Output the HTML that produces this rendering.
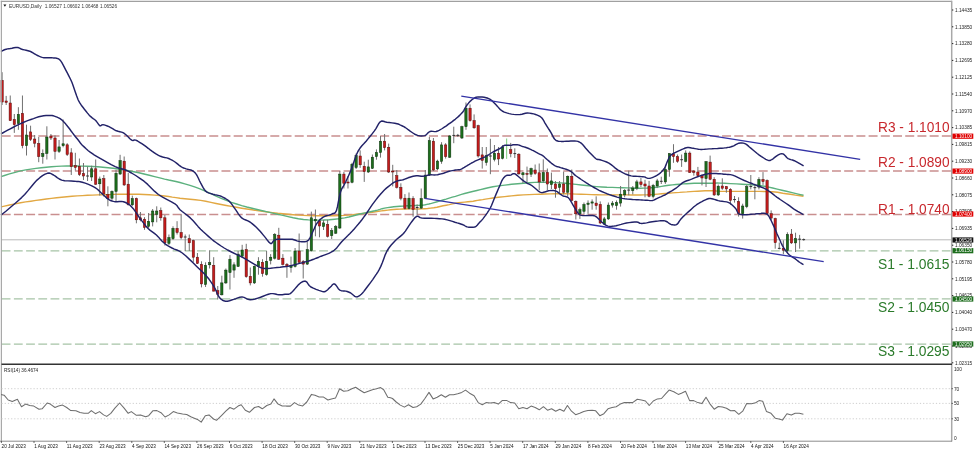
<!DOCTYPE html><html><head><meta charset="utf-8"><title>EURUSD Daily</title><style>
html,body{margin:0;padding:0;background:#fff;width:975px;height:452px;overflow:hidden}
svg{display:block;will-change:transform}text{font-family:"Liberation Sans",sans-serif}.t{opacity:.995}
</style></head><body>
<svg width="975" height="452" viewBox="0 0 975 452">
<rect x="0" y="0" width="975" height="452" fill="#fff"/>
<line x1="1.5" y1="136.0" x2="951" y2="136.0" stroke="#c98f8f" stroke-width="1.4" stroke-dasharray="9 3.21" stroke-dashoffset="12.03"/>
<line x1="1.5" y1="171.0" x2="951" y2="171.0" stroke="#c98f8f" stroke-width="1.4" stroke-dasharray="9 3.21" stroke-dashoffset="12.03"/>
<line x1="1.5" y1="214.5" x2="951" y2="214.5" stroke="#c98f8f" stroke-width="1.4" stroke-dasharray="9 3.21" stroke-dashoffset="12.03"/>
<line x1="1.5" y1="250.9" x2="951" y2="250.9" stroke="#a6c3a6" stroke-width="1.4" stroke-dasharray="8.8 3.41" stroke-dashoffset="12.03"/>
<line x1="1.5" y1="298.9" x2="951" y2="298.9" stroke="#a6c3a6" stroke-width="1.4" stroke-dasharray="8.8 3.41" stroke-dashoffset="12.03"/>
<line x1="1.5" y1="344.1" x2="951" y2="344.1" stroke="#a6c3a6" stroke-width="1.4" stroke-dasharray="8.8 3.41" stroke-dashoffset="12.03"/>
<line x1="1.5" y1="239.8" x2="951" y2="239.8" stroke="#b9b9b9" stroke-width="1"/>
<polyline points="1.0,206.9 4.5,206.1 9.5,205.0 15.2,203.9 20.6,202.8 25.7,201.9 30.8,201.2 36.0,200.4 41.2,199.7 46.3,199.0 51.4,198.4 56.6,197.7 61.7,197.2 66.8,196.7 72.0,196.3 77.1,195.9 82.3,195.6 87.5,195.3 92.6,195.1 97.7,194.9 102.9,194.7 108.1,194.6 113.2,194.4 118.4,194.3 123.5,194.3 128.6,194.3 133.8,194.3 138.9,194.3 144.0,194.5 149.3,194.8 154.6,195.1 159.8,195.5 164.6,196.0 168.7,196.5 172.3,197.1 175.9,197.6 180.0,198.2 184.8,198.7 190.0,199.2 195.3,199.7 200.6,200.4 205.8,201.3 210.9,202.4 216.1,203.5 221.2,204.5 226.3,205.5 231.4,206.4 236.6,207.3 241.7,208.2 246.8,209.0 252.0,209.8 257.1,210.6 262.3,211.3 267.4,212.0 272.6,212.6 277.7,213.3 282.9,213.8 288.1,214.3 293.2,214.7 298.4,215.1 303.5,215.4 308.6,215.6 313.7,215.7 318.9,215.8 324.0,215.8 329.3,215.8 334.6,215.7 339.8,215.6 344.6,215.4 348.9,215.1 352.8,214.7 356.5,214.2 360.0,213.8 363.3,213.4 366.3,213.0 369.3,212.6 372.3,212.2 375.4,211.8 378.5,211.3 381.5,210.9 384.6,210.5 387.7,210.1 390.8,209.8 393.8,209.5 396.9,209.3 400.0,209.1 403.0,209.0 406.1,209.0 409.2,208.9 412.3,208.9 415.4,209.0 418.4,209.0 421.5,208.9 424.6,208.7 427.6,208.5 430.7,208.1 433.8,207.7 436.9,207.2 440.0,206.5 443.1,205.8 446.2,205.2 449.3,204.6 452.4,203.9 455.4,203.3 458.5,202.8 461.6,202.4 464.8,202.1 467.9,201.8 470.8,201.5 473.2,201.2 475.4,200.8 477.5,200.4 480.0,200.0 482.7,199.6 485.5,199.1 488.8,198.6 492.9,198.0 498.3,197.3 504.7,196.6 511.4,195.9 517.7,195.3 523.5,194.9 529.1,194.6 534.6,194.4 540.0,194.2 545.3,194.0 550.4,193.9 555.5,193.8 560.6,193.8 565.8,193.8 570.9,193.9 576.1,194.1 581.2,194.2 586.3,194.4 591.5,194.6 596.6,194.8 601.7,194.9 606.9,194.9 612.2,194.9 617.4,194.9 622.3,194.9 627.0,194.9 631.5,195.0 635.9,195.0 640.0,195.0 643.8,194.9 647.4,194.8 650.9,194.6 654.4,194.4 658.0,194.1 661.6,193.8 665.2,193.5 668.8,193.2 672.4,192.9 676.0,192.6 679.6,192.4 683.2,192.1 686.8,191.9 690.4,191.6 694.0,191.4 697.6,191.2 701.3,191.0 705.1,190.8 708.8,190.7 711.9,190.6 714.0,190.7 715.5,190.9 717.1,191.1 720.0,191.3 724.5,191.4 730.1,191.4 736.2,191.4 742.0,191.4 747.8,191.4 753.7,191.4 759.3,191.4 764.0,191.5 767.5,191.6 770.2,191.7 772.5,191.8 775.0,192.0 777.6,192.3 780.1,192.7 782.8,193.2 786.0,193.7 790.3,194.3 795.4,195.1 800.2,195.7 803.5,196.2" fill="none" stroke="#e2a843" stroke-width="1.4"/>
<polyline points="1.0,176.6 4.5,175.5 9.5,173.9 15.2,172.3 20.6,170.9 25.7,169.9 30.8,169.1 36.0,168.4 41.2,167.8 46.3,167.2 51.4,166.8 56.6,166.4 61.7,166.1 66.8,166.0 72.0,165.9 77.1,166.0 82.3,166.1 87.5,166.3 92.6,166.5 97.7,166.8 102.9,167.2 108.1,167.7 113.2,168.3 118.4,169.0 123.5,169.8 128.6,170.7 133.8,171.7 138.9,172.8 144.0,174.0 149.3,175.3 154.6,176.6 159.8,177.9 164.6,179.1 168.7,180.0 172.3,180.7 175.9,181.5 180.0,182.5 184.8,183.9 190.0,185.4 195.3,187.2 200.6,189.1 205.8,191.3 210.9,193.7 216.1,196.2 221.2,198.4 226.3,200.4 231.4,202.3 236.6,204.0 241.7,205.6 246.8,207.0 252.0,208.3 257.1,209.5 262.3,210.7 267.4,211.9 272.6,213.1 277.7,214.3 282.9,215.4 288.1,216.6 293.2,217.7 298.4,218.7 303.5,219.5 308.6,219.9 313.7,220.1 318.9,220.1 324.0,220.0 329.3,219.7 334.6,219.2 339.8,218.6 344.6,217.9 348.8,217.0 352.7,216.0 356.3,215.0 360.0,214.0 363.9,213.1 367.8,212.3 371.5,211.5 374.8,210.8 377.5,210.1 379.9,209.4 382.1,208.7 384.6,208.1 387.5,207.6 390.6,207.2 393.8,206.8 396.9,206.5 400.0,206.3 403.0,206.1 406.1,205.9 409.2,205.8 412.4,205.7 415.7,205.5 418.8,205.4 421.5,205.2 423.6,205.0 425.3,204.8 426.9,204.4 428.9,204.0 431.4,203.4 434.1,202.6 437.1,201.8 440.0,200.9 443.0,200.0 446.1,199.1 449.2,198.1 452.3,197.2 455.4,196.3 458.5,195.3 461.5,194.4 464.6,193.5 467.6,192.7 470.5,192.0 473.6,191.3 476.9,190.5 480.4,189.6 484.1,188.7 488.2,187.7 492.9,186.8 498.5,185.9 504.9,185.1 511.5,184.3 517.7,183.7 523.5,183.2 529.1,182.7 534.6,182.4 540.0,182.2 545.3,182.2 550.4,182.3 555.5,182.6 560.6,182.9 565.8,183.3 570.9,183.9 576.1,184.4 581.2,185.0 586.3,185.5 591.5,186.1 596.6,186.6 601.7,187.0 606.9,187.3 612.2,187.4 617.4,187.6 622.3,187.7 627.0,187.9 631.5,188.0 635.9,188.2 640.0,188.2 643.8,188.1 647.4,188.0 650.9,187.8 654.4,187.5 658.0,187.0 661.6,186.4 665.2,185.8 668.8,185.3 672.4,184.9 676.0,184.5 679.6,184.2 683.2,183.9 686.8,183.7 690.4,183.5 694.0,183.3 697.6,183.2 701.3,183.2 705.1,183.2 708.8,183.2 711.9,183.2 714.0,183.2 715.5,183.1 717.1,183.0 720.0,183.1 724.7,183.3 730.5,183.6 736.6,183.9 742.0,184.2 746.5,184.5 750.5,184.7 754.2,185.0 757.6,185.3 760.5,185.6 763.0,186.0 765.6,186.5 768.7,187.1 772.7,188.0 777.2,189.1 781.9,190.2 786.4,191.3 791.1,192.4 796.1,193.6 800.4,194.6 803.5,195.3" fill="none" stroke="#5cb17e" stroke-width="1.4"/>
<line x1="2.10" y1="72.2" x2="2.10" y2="105.0" stroke="#707070" stroke-width="1"/>
<rect x="0.95" y="80.40" width="2.3" height="21.60" fill="#c41c1c" stroke="#5a0c0c" stroke-width="0.5"/>
<line x1="6.17" y1="95.9" x2="6.17" y2="105.0" stroke="#707070" stroke-width="1"/>
<rect x="5.02" y="101.00" width="2.3" height="1.40" fill="#c41c1c" stroke="#5a0c0c" stroke-width="0.5"/>
<line x1="10.24" y1="95.5" x2="10.24" y2="121.0" stroke="#707070" stroke-width="1"/>
<rect x="9.09" y="103.00" width="2.3" height="17.60" fill="#c41c1c" stroke="#5a0c0c" stroke-width="0.5"/>
<line x1="14.31" y1="114.0" x2="14.31" y2="132.9" stroke="#707070" stroke-width="1"/>
<rect x="13.16" y="119.50" width="2.3" height="5.20" fill="#c41c1c" stroke="#5a0c0c" stroke-width="0.5"/>
<line x1="18.38" y1="107.2" x2="18.38" y2="129.8" stroke="#707070" stroke-width="1"/>
<rect x="17.23" y="114.40" width="2.3" height="9.20" fill="#1c6e1c" stroke="#0c300c" stroke-width="0.5"/>
<line x1="22.45" y1="95.5" x2="22.45" y2="148.3" stroke="#707070" stroke-width="1"/>
<rect x="21.30" y="113.40" width="2.3" height="32.30" fill="#c41c1c" stroke="#5a0c0c" stroke-width="0.5"/>
<line x1="26.51" y1="124.7" x2="26.51" y2="155.5" stroke="#707070" stroke-width="1"/>
<rect x="25.36" y="135.00" width="2.3" height="10.70" fill="#1c6e1c" stroke="#0c300c" stroke-width="0.5"/>
<line x1="30.58" y1="125.7" x2="30.58" y2="141.0" stroke="#707070" stroke-width="1"/>
<rect x="29.43" y="131.90" width="2.3" height="7.60" fill="#c41c1c" stroke="#5a0c0c" stroke-width="0.5"/>
<line x1="34.65" y1="135.0" x2="34.65" y2="147.3" stroke="#707070" stroke-width="1"/>
<rect x="33.50" y="139.00" width="2.3" height="4.20" fill="#c41c1c" stroke="#5a0c0c" stroke-width="0.5"/>
<line x1="38.72" y1="137.0" x2="38.72" y2="162.2" stroke="#707070" stroke-width="1"/>
<rect x="37.57" y="143.60" width="2.3" height="13.00" fill="#c41c1c" stroke="#5a0c0c" stroke-width="0.5"/>
<line x1="42.79" y1="149.4" x2="42.79" y2="163.7" stroke="#707070" stroke-width="1"/>
<rect x="41.64" y="153.50" width="2.3" height="3.10" fill="#1c6e1c" stroke="#0c300c" stroke-width="0.5"/>
<line x1="46.86" y1="126.3" x2="46.86" y2="159.5" stroke="#707070" stroke-width="1"/>
<rect x="45.71" y="137.00" width="2.3" height="16.50" fill="#1c6e1c" stroke="#0c300c" stroke-width="0.5"/>
<line x1="50.93" y1="134.0" x2="50.93" y2="140.0" stroke="#707070" stroke-width="1"/>
<rect x="49.78" y="136.00" width="2.3" height="2.00" fill="#c41c1c" stroke="#5a0c0c" stroke-width="0.5"/>
<line x1="55.00" y1="135.4" x2="55.00" y2="159.5" stroke="#707070" stroke-width="1"/>
<rect x="53.85" y="138.00" width="2.3" height="13.40" fill="#c41c1c" stroke="#5a0c0c" stroke-width="0.5"/>
<line x1="59.07" y1="140.0" x2="59.07" y2="153.0" stroke="#707070" stroke-width="1"/>
<rect x="57.92" y="146.90" width="2.3" height="4.50" fill="#1c6e1c" stroke="#0c300c" stroke-width="0.5"/>
<line x1="63.13" y1="119.5" x2="63.13" y2="147.3" stroke="#707070" stroke-width="1"/>
<rect x="61.98" y="143.80" width="2.3" height="1.90" fill="#1c6e1c" stroke="#0c300c" stroke-width="0.5"/>
<line x1="67.20" y1="143.2" x2="67.20" y2="156.0" stroke="#707070" stroke-width="1"/>
<rect x="66.05" y="144.80" width="2.3" height="9.70" fill="#c41c1c" stroke="#5a0c0c" stroke-width="0.5"/>
<line x1="71.27" y1="148.2" x2="71.27" y2="175.0" stroke="#707070" stroke-width="1"/>
<rect x="70.12" y="152.80" width="2.3" height="13.90" fill="#c41c1c" stroke="#5a0c0c" stroke-width="0.5"/>
<line x1="75.34" y1="152.8" x2="75.34" y2="170.5" stroke="#707070" stroke-width="1"/>
<rect x="74.19" y="165.70" width="2.3" height="1.70" fill="#c41c1c" stroke="#5a0c0c" stroke-width="0.5"/>
<line x1="79.41" y1="158.5" x2="79.41" y2="176.0" stroke="#707070" stroke-width="1"/>
<rect x="78.26" y="166.30" width="2.3" height="8.30" fill="#c41c1c" stroke="#5a0c0c" stroke-width="0.5"/>
<line x1="83.48" y1="163.0" x2="83.48" y2="180.0" stroke="#707070" stroke-width="1"/>
<rect x="82.33" y="173.50" width="2.3" height="2.50" fill="#c41c1c" stroke="#5a0c0c" stroke-width="0.5"/>
<line x1="87.55" y1="166.7" x2="87.55" y2="181.0" stroke="#707070" stroke-width="1"/>
<rect x="86.15" y="175.50" width="2.8" height="1" fill="#333"/>
<line x1="91.62" y1="165.7" x2="91.62" y2="181.0" stroke="#707070" stroke-width="1"/>
<rect x="90.47" y="168.80" width="2.3" height="8.20" fill="#1c6e1c" stroke="#0c300c" stroke-width="0.5"/>
<line x1="95.69" y1="159.5" x2="95.69" y2="185.0" stroke="#707070" stroke-width="1"/>
<rect x="94.54" y="168.80" width="2.3" height="15.40" fill="#c41c1c" stroke="#5a0c0c" stroke-width="0.5"/>
<line x1="99.76" y1="176.6" x2="99.76" y2="195.6" stroke="#707070" stroke-width="1"/>
<rect x="98.61" y="179.00" width="2.3" height="4.80" fill="#1c6e1c" stroke="#0c300c" stroke-width="0.5"/>
<line x1="103.82" y1="175.0" x2="103.82" y2="196.6" stroke="#707070" stroke-width="1"/>
<rect x="102.67" y="178.70" width="2.3" height="15.20" fill="#c41c1c" stroke="#5a0c0c" stroke-width="0.5"/>
<line x1="107.89" y1="186.3" x2="107.89" y2="206.3" stroke="#707070" stroke-width="1"/>
<rect x="106.74" y="194.50" width="2.3" height="4.10" fill="#c41c1c" stroke="#5a0c0c" stroke-width="0.5"/>
<line x1="111.96" y1="190.4" x2="111.96" y2="200.7" stroke="#707070" stroke-width="1"/>
<rect x="110.81" y="191.40" width="2.3" height="6.80" fill="#1c6e1c" stroke="#0c300c" stroke-width="0.5"/>
<line x1="116.03" y1="169.8" x2="116.03" y2="201.3" stroke="#707070" stroke-width="1"/>
<rect x="114.88" y="173.30" width="2.3" height="18.10" fill="#1c6e1c" stroke="#0c300c" stroke-width="0.5"/>
<line x1="120.10" y1="154.8" x2="120.10" y2="175.0" stroke="#707070" stroke-width="1"/>
<rect x="118.95" y="160.60" width="2.3" height="13.40" fill="#1c6e1c" stroke="#0c300c" stroke-width="0.5"/>
<line x1="124.17" y1="156.5" x2="124.17" y2="186.0" stroke="#707070" stroke-width="1"/>
<rect x="123.02" y="161.20" width="2.3" height="23.70" fill="#c41c1c" stroke="#5a0c0c" stroke-width="0.5"/>
<line x1="128.24" y1="172.9" x2="128.24" y2="205.5" stroke="#707070" stroke-width="1"/>
<rect x="127.09" y="184.20" width="2.3" height="20.60" fill="#c41c1c" stroke="#5a0c0c" stroke-width="0.5"/>
<line x1="132.31" y1="195.6" x2="132.31" y2="206.0" stroke="#707070" stroke-width="1"/>
<rect x="131.16" y="198.60" width="2.3" height="6.20" fill="#1c6e1c" stroke="#0c300c" stroke-width="0.5"/>
<line x1="136.38" y1="197.6" x2="136.38" y2="223.3" stroke="#707070" stroke-width="1"/>
<rect x="135.23" y="198.60" width="2.3" height="21.20" fill="#c41c1c" stroke="#5a0c0c" stroke-width="0.5"/>
<line x1="140.45" y1="212.0" x2="140.45" y2="221.3" stroke="#707070" stroke-width="1"/>
<rect x="139.30" y="217.80" width="2.3" height="2.00" fill="#c41c1c" stroke="#5a0c0c" stroke-width="0.5"/>
<line x1="144.51" y1="217.2" x2="144.51" y2="229.8" stroke="#707070" stroke-width="1"/>
<rect x="143.36" y="219.20" width="2.3" height="8.20" fill="#c41c1c" stroke="#5a0c0c" stroke-width="0.5"/>
<line x1="148.58" y1="213.0" x2="148.58" y2="228.5" stroke="#707070" stroke-width="1"/>
<rect x="147.43" y="221.30" width="2.3" height="5.10" fill="#1c6e1c" stroke="#0c300c" stroke-width="0.5"/>
<line x1="152.65" y1="209.0" x2="152.65" y2="226.4" stroke="#707070" stroke-width="1"/>
<rect x="151.50" y="211.00" width="2.3" height="10.90" fill="#1c6e1c" stroke="#0c300c" stroke-width="0.5"/>
<line x1="156.72" y1="206.3" x2="156.72" y2="222.3" stroke="#707070" stroke-width="1"/>
<rect x="155.57" y="211.00" width="2.3" height="3.50" fill="#1c6e1c" stroke="#0c300c" stroke-width="0.5"/>
<line x1="160.79" y1="207.5" x2="160.79" y2="220.7" stroke="#707070" stroke-width="1"/>
<rect x="159.64" y="210.60" width="2.3" height="7.20" fill="#c41c1c" stroke="#5a0c0c" stroke-width="0.5"/>
<line x1="164.86" y1="215.0" x2="164.86" y2="245.5" stroke="#707070" stroke-width="1"/>
<rect x="163.71" y="217.80" width="2.3" height="25.00" fill="#c41c1c" stroke="#5a0c0c" stroke-width="0.5"/>
<line x1="168.93" y1="234.5" x2="168.93" y2="245.0" stroke="#707070" stroke-width="1"/>
<rect x="167.78" y="237.60" width="2.3" height="5.80" fill="#1c6e1c" stroke="#0c300c" stroke-width="0.5"/>
<line x1="173.00" y1="226.3" x2="173.00" y2="240.0" stroke="#707070" stroke-width="1"/>
<rect x="171.85" y="228.40" width="2.3" height="10.30" fill="#1c6e1c" stroke="#0c300c" stroke-width="0.5"/>
<line x1="177.07" y1="221.2" x2="177.07" y2="234.5" stroke="#707070" stroke-width="1"/>
<rect x="175.92" y="228.40" width="2.3" height="4.10" fill="#c41c1c" stroke="#5a0c0c" stroke-width="0.5"/>
<line x1="181.14" y1="214.5" x2="181.14" y2="239.3" stroke="#707070" stroke-width="1"/>
<rect x="179.99" y="232.50" width="2.3" height="5.10" fill="#c41c1c" stroke="#5a0c0c" stroke-width="0.5"/>
<line x1="185.20" y1="234.5" x2="185.20" y2="251.0" stroke="#707070" stroke-width="1"/>
<rect x="183.80" y="236.50" width="2.8" height="1" fill="#333"/>
<line x1="189.27" y1="234.5" x2="189.27" y2="251.0" stroke="#707070" stroke-width="1"/>
<rect x="188.12" y="238.70" width="2.3" height="4.10" fill="#c41c1c" stroke="#5a0c0c" stroke-width="0.5"/>
<line x1="193.34" y1="239.7" x2="193.34" y2="261.9" stroke="#707070" stroke-width="1"/>
<rect x="192.19" y="240.70" width="2.3" height="16.50" fill="#c41c1c" stroke="#5a0c0c" stroke-width="0.5"/>
<line x1="197.41" y1="253.0" x2="197.41" y2="264.0" stroke="#707070" stroke-width="1"/>
<rect x="196.26" y="257.20" width="2.3" height="6.20" fill="#c41c1c" stroke="#5a0c0c" stroke-width="0.5"/>
<line x1="201.48" y1="261.3" x2="201.48" y2="287.4" stroke="#707070" stroke-width="1"/>
<rect x="200.33" y="264.40" width="2.3" height="19.50" fill="#c41c1c" stroke="#5a0c0c" stroke-width="0.5"/>
<line x1="205.55" y1="262.3" x2="205.55" y2="287.0" stroke="#707070" stroke-width="1"/>
<rect x="204.40" y="265.40" width="2.3" height="19.10" fill="#1c6e1c" stroke="#0c300c" stroke-width="0.5"/>
<line x1="209.62" y1="250.4" x2="209.62" y2="268.5" stroke="#707070" stroke-width="1"/>
<rect x="208.47" y="262.70" width="2.3" height="2.10" fill="#1c6e1c" stroke="#0c300c" stroke-width="0.5"/>
<line x1="213.69" y1="257.2" x2="213.69" y2="291.5" stroke="#707070" stroke-width="1"/>
<rect x="212.54" y="265.40" width="2.3" height="25.70" fill="#c41c1c" stroke="#5a0c0c" stroke-width="0.5"/>
<line x1="217.76" y1="286.0" x2="217.76" y2="299.4" stroke="#707070" stroke-width="1"/>
<rect x="216.61" y="290.70" width="2.3" height="3.50" fill="#c41c1c" stroke="#5a0c0c" stroke-width="0.5"/>
<line x1="221.83" y1="275.7" x2="221.83" y2="295.5" stroke="#707070" stroke-width="1"/>
<rect x="220.68" y="282.90" width="2.3" height="11.90" fill="#1c6e1c" stroke="#0c300c" stroke-width="0.5"/>
<line x1="225.89" y1="268.5" x2="225.89" y2="284.0" stroke="#707070" stroke-width="1"/>
<rect x="224.74" y="270.10" width="2.3" height="12.80" fill="#1c6e1c" stroke="#0c300c" stroke-width="0.5"/>
<line x1="229.96" y1="255.1" x2="229.96" y2="289.5" stroke="#707070" stroke-width="1"/>
<rect x="228.81" y="259.20" width="2.3" height="13.40" fill="#1c6e1c" stroke="#0c300c" stroke-width="0.5"/>
<line x1="234.03" y1="262.3" x2="234.03" y2="277.8" stroke="#707070" stroke-width="1"/>
<rect x="232.88" y="264.80" width="2.3" height="5.30" fill="#1c6e1c" stroke="#0c300c" stroke-width="0.5"/>
<line x1="238.10" y1="251.0" x2="238.10" y2="267.0" stroke="#707070" stroke-width="1"/>
<rect x="236.95" y="254.10" width="2.3" height="12.30" fill="#1c6e1c" stroke="#0c300c" stroke-width="0.5"/>
<line x1="242.17" y1="244.8" x2="242.17" y2="258.0" stroke="#707070" stroke-width="1"/>
<rect x="241.02" y="250.00" width="2.3" height="6.20" fill="#1c6e1c" stroke="#0c300c" stroke-width="0.5"/>
<line x1="246.24" y1="243.8" x2="246.24" y2="277.8" stroke="#707070" stroke-width="1"/>
<rect x="245.09" y="249.60" width="2.3" height="27.10" fill="#c41c1c" stroke="#5a0c0c" stroke-width="0.5"/>
<line x1="250.31" y1="267.5" x2="250.31" y2="285.4" stroke="#707070" stroke-width="1"/>
<rect x="249.16" y="276.30" width="2.3" height="6.60" fill="#c41c1c" stroke="#5a0c0c" stroke-width="0.5"/>
<line x1="254.38" y1="265.4" x2="254.38" y2="284.0" stroke="#707070" stroke-width="1"/>
<rect x="253.23" y="266.40" width="2.3" height="16.50" fill="#1c6e1c" stroke="#0c300c" stroke-width="0.5"/>
<line x1="258.45" y1="257.2" x2="258.45" y2="274.7" stroke="#707070" stroke-width="1"/>
<rect x="257.30" y="261.30" width="2.3" height="5.10" fill="#1c6e1c" stroke="#0c300c" stroke-width="0.5"/>
<line x1="262.52" y1="259.2" x2="262.52" y2="276.7" stroke="#707070" stroke-width="1"/>
<rect x="261.37" y="262.30" width="2.3" height="11.30" fill="#c41c1c" stroke="#5a0c0c" stroke-width="0.5"/>
<line x1="266.59" y1="251.0" x2="266.59" y2="275.7" stroke="#707070" stroke-width="1"/>
<rect x="265.44" y="261.30" width="2.3" height="13.40" fill="#1c6e1c" stroke="#0c300c" stroke-width="0.5"/>
<line x1="270.65" y1="254.1" x2="270.65" y2="264.4" stroke="#707070" stroke-width="1"/>
<rect x="269.50" y="257.20" width="2.3" height="3.10" fill="#1c6e1c" stroke="#0c300c" stroke-width="0.5"/>
<line x1="274.72" y1="233.1" x2="274.72" y2="259.5" stroke="#707070" stroke-width="1"/>
<rect x="273.57" y="234.50" width="2.3" height="23.70" fill="#1c6e1c" stroke="#0c300c" stroke-width="0.5"/>
<line x1="278.79" y1="227.8" x2="278.79" y2="260.0" stroke="#707070" stroke-width="1"/>
<rect x="277.64" y="235.20" width="2.3" height="24.00" fill="#c41c1c" stroke="#5a0c0c" stroke-width="0.5"/>
<line x1="282.86" y1="254.1" x2="282.86" y2="265.5" stroke="#707070" stroke-width="1"/>
<rect x="281.71" y="258.20" width="2.3" height="6.20" fill="#c41c1c" stroke="#5a0c0c" stroke-width="0.5"/>
<line x1="286.93" y1="263.0" x2="286.93" y2="277.8" stroke="#707070" stroke-width="1"/>
<rect x="285.78" y="264.40" width="2.3" height="2.00" fill="#c41c1c" stroke="#5a0c0c" stroke-width="0.5"/>
<line x1="291.00" y1="256.6" x2="291.00" y2="272.6" stroke="#707070" stroke-width="1"/>
<rect x="289.85" y="265.40" width="2.3" height="2.10" fill="#1c6e1c" stroke="#0c300c" stroke-width="0.5"/>
<line x1="295.07" y1="248.0" x2="295.07" y2="267.5" stroke="#707070" stroke-width="1"/>
<rect x="293.92" y="251.00" width="2.3" height="15.40" fill="#1c6e1c" stroke="#0c300c" stroke-width="0.5"/>
<line x1="299.14" y1="233.5" x2="299.14" y2="263.0" stroke="#707070" stroke-width="1"/>
<rect x="297.99" y="251.00" width="2.3" height="11.30" fill="#c41c1c" stroke="#5a0c0c" stroke-width="0.5"/>
<line x1="303.21" y1="260.0" x2="303.21" y2="278.5" stroke="#707070" stroke-width="1"/>
<rect x="302.06" y="261.60" width="2.3" height="2.50" fill="#c41c1c" stroke="#5a0c0c" stroke-width="0.5"/>
<line x1="307.28" y1="241.4" x2="307.28" y2="265.0" stroke="#707070" stroke-width="1"/>
<rect x="306.13" y="249.70" width="2.3" height="14.40" fill="#1c6e1c" stroke="#0c300c" stroke-width="0.5"/>
<line x1="311.34" y1="211.6" x2="311.34" y2="251.5" stroke="#707070" stroke-width="1"/>
<rect x="310.19" y="217.80" width="2.3" height="32.90" fill="#1c6e1c" stroke="#0c300c" stroke-width="0.5"/>
<line x1="315.41" y1="209.5" x2="315.41" y2="236.3" stroke="#707070" stroke-width="1"/>
<rect x="314.26" y="219.40" width="2.3" height="1.50" fill="#1c6e1c" stroke="#0c300c" stroke-width="0.5"/>
<line x1="319.48" y1="218.8" x2="319.48" y2="237.3" stroke="#707070" stroke-width="1"/>
<rect x="318.33" y="220.90" width="2.3" height="5.10" fill="#c41c1c" stroke="#5a0c0c" stroke-width="0.5"/>
<line x1="323.55" y1="219.8" x2="323.55" y2="230.0" stroke="#707070" stroke-width="1"/>
<rect x="322.40" y="222.90" width="2.3" height="3.70" fill="#1c6e1c" stroke="#0c300c" stroke-width="0.5"/>
<line x1="327.62" y1="219.8" x2="327.62" y2="237.5" stroke="#707070" stroke-width="1"/>
<rect x="326.47" y="224.60" width="2.3" height="11.70" fill="#c41c1c" stroke="#5a0c0c" stroke-width="0.5"/>
<line x1="331.69" y1="228.0" x2="331.69" y2="239.0" stroke="#707070" stroke-width="1"/>
<rect x="330.54" y="230.70" width="2.3" height="5.00" fill="#1c6e1c" stroke="#0c300c" stroke-width="0.5"/>
<line x1="335.76" y1="225.0" x2="335.76" y2="234.0" stroke="#707070" stroke-width="1"/>
<rect x="334.61" y="226.60" width="2.3" height="6.60" fill="#1c6e1c" stroke="#0c300c" stroke-width="0.5"/>
<line x1="339.83" y1="171.0" x2="339.83" y2="229.0" stroke="#707070" stroke-width="1"/>
<rect x="338.68" y="174.10" width="2.3" height="53.90" fill="#1c6e1c" stroke="#0c300c" stroke-width="0.5"/>
<line x1="343.90" y1="172.0" x2="343.90" y2="188.5" stroke="#707070" stroke-width="1"/>
<rect x="342.75" y="174.10" width="2.3" height="9.20" fill="#c41c1c" stroke="#5a0c0c" stroke-width="0.5"/>
<line x1="347.97" y1="176.1" x2="347.97" y2="188.5" stroke="#707070" stroke-width="1"/>
<rect x="346.82" y="182.00" width="2.3" height="1.00" fill="#c41c1c" stroke="#5a0c0c" stroke-width="0.5"/>
<line x1="352.03" y1="162.8" x2="352.03" y2="183.3" stroke="#707070" stroke-width="1"/>
<rect x="350.88" y="164.20" width="2.3" height="18.10" fill="#1c6e1c" stroke="#0c300c" stroke-width="0.5"/>
<line x1="356.10" y1="153.5" x2="356.10" y2="169.0" stroke="#707070" stroke-width="1"/>
<rect x="354.95" y="155.60" width="2.3" height="11.90" fill="#1c6e1c" stroke="#0c300c" stroke-width="0.5"/>
<line x1="360.17" y1="150.4" x2="360.17" y2="167.9" stroke="#707070" stroke-width="1"/>
<rect x="359.02" y="156.00" width="2.3" height="8.80" fill="#c41c1c" stroke="#5a0c0c" stroke-width="0.5"/>
<line x1="364.24" y1="161.7" x2="364.24" y2="181.9" stroke="#707070" stroke-width="1"/>
<rect x="363.09" y="166.30" width="2.3" height="5.30" fill="#c41c1c" stroke="#5a0c0c" stroke-width="0.5"/>
<line x1="368.31" y1="159.7" x2="368.31" y2="173.0" stroke="#707070" stroke-width="1"/>
<rect x="367.16" y="166.90" width="2.3" height="5.10" fill="#1c6e1c" stroke="#0c300c" stroke-width="0.5"/>
<line x1="372.38" y1="154.5" x2="372.38" y2="169.0" stroke="#707070" stroke-width="1"/>
<rect x="371.23" y="157.20" width="2.3" height="11.10" fill="#1c6e1c" stroke="#0c300c" stroke-width="0.5"/>
<line x1="376.45" y1="149.4" x2="376.45" y2="159.7" stroke="#707070" stroke-width="1"/>
<rect x="375.30" y="152.50" width="2.3" height="4.10" fill="#1c6e1c" stroke="#0c300c" stroke-width="0.5"/>
<line x1="380.52" y1="136.0" x2="380.52" y2="157.6" stroke="#707070" stroke-width="1"/>
<rect x="379.37" y="141.20" width="2.3" height="11.30" fill="#1c6e1c" stroke="#0c300c" stroke-width="0.5"/>
<line x1="384.59" y1="134.0" x2="384.59" y2="150.4" stroke="#707070" stroke-width="1"/>
<rect x="383.44" y="141.20" width="2.3" height="6.50" fill="#c41c1c" stroke="#5a0c0c" stroke-width="0.5"/>
<line x1="388.66" y1="143.6" x2="388.66" y2="173.0" stroke="#707070" stroke-width="1"/>
<rect x="387.51" y="147.30" width="2.3" height="24.70" fill="#c41c1c" stroke="#5a0c0c" stroke-width="0.5"/>
<line x1="392.72" y1="164.8" x2="392.72" y2="186.4" stroke="#707070" stroke-width="1"/>
<rect x="391.57" y="171.00" width="2.3" height="1.00" fill="#c41c1c" stroke="#5a0c0c" stroke-width="0.5"/>
<line x1="396.79" y1="170.0" x2="396.79" y2="188.5" stroke="#707070" stroke-width="1"/>
<rect x="395.64" y="175.70" width="2.3" height="11.70" fill="#c41c1c" stroke="#5a0c0c" stroke-width="0.5"/>
<line x1="400.86" y1="183.3" x2="400.86" y2="200.3" stroke="#707070" stroke-width="1"/>
<rect x="399.71" y="187.40" width="2.3" height="10.80" fill="#c41c1c" stroke="#5a0c0c" stroke-width="0.5"/>
<line x1="404.93" y1="194.1" x2="404.93" y2="209.5" stroke="#707070" stroke-width="1"/>
<rect x="403.78" y="198.20" width="2.3" height="10.30" fill="#c41c1c" stroke="#5a0c0c" stroke-width="0.5"/>
<line x1="409.00" y1="192.5" x2="409.00" y2="209.5" stroke="#707070" stroke-width="1"/>
<rect x="407.85" y="198.20" width="2.3" height="10.30" fill="#1c6e1c" stroke="#0c300c" stroke-width="0.5"/>
<line x1="413.07" y1="196.2" x2="413.07" y2="216.7" stroke="#707070" stroke-width="1"/>
<rect x="411.92" y="198.60" width="2.3" height="10.90" fill="#c41c1c" stroke="#5a0c0c" stroke-width="0.5"/>
<line x1="417.14" y1="204.4" x2="417.14" y2="214.7" stroke="#707070" stroke-width="1"/>
<rect x="415.74" y="207.00" width="2.8" height="1" fill="#333"/>
<line x1="421.21" y1="188.5" x2="421.21" y2="209.0" stroke="#707070" stroke-width="1"/>
<rect x="420.06" y="198.60" width="2.3" height="9.50" fill="#1c6e1c" stroke="#0c300c" stroke-width="0.5"/>
<line x1="425.28" y1="170.0" x2="425.28" y2="199.0" stroke="#707070" stroke-width="1"/>
<rect x="424.13" y="175.10" width="2.3" height="23.10" fill="#1c6e1c" stroke="#0c300c" stroke-width="0.5"/>
<line x1="429.35" y1="137.0" x2="429.35" y2="176.0" stroke="#707070" stroke-width="1"/>
<rect x="428.20" y="140.70" width="2.3" height="34.40" fill="#1c6e1c" stroke="#0c300c" stroke-width="0.5"/>
<line x1="433.41" y1="138.0" x2="433.41" y2="171.0" stroke="#707070" stroke-width="1"/>
<rect x="432.26" y="141.20" width="2.3" height="28.80" fill="#c41c1c" stroke="#5a0c0c" stroke-width="0.5"/>
<line x1="437.48" y1="159.7" x2="437.48" y2="170.0" stroke="#707070" stroke-width="1"/>
<rect x="436.33" y="161.10" width="2.3" height="7.80" fill="#1c6e1c" stroke="#0c300c" stroke-width="0.5"/>
<line x1="441.55" y1="142.2" x2="441.55" y2="163.8" stroke="#707070" stroke-width="1"/>
<rect x="440.40" y="144.90" width="2.3" height="16.40" fill="#1c6e1c" stroke="#0c300c" stroke-width="0.5"/>
<line x1="445.62" y1="143.2" x2="445.62" y2="158.6" stroke="#707070" stroke-width="1"/>
<rect x="444.47" y="144.90" width="2.3" height="11.70" fill="#c41c1c" stroke="#5a0c0c" stroke-width="0.5"/>
<line x1="449.69" y1="135.0" x2="449.69" y2="158.0" stroke="#707070" stroke-width="1"/>
<rect x="448.54" y="136.00" width="2.3" height="21.20" fill="#1c6e1c" stroke="#0c300c" stroke-width="0.5"/>
<line x1="453.76" y1="126.7" x2="453.76" y2="143.2" stroke="#707070" stroke-width="1"/>
<rect x="452.36" y="134.90" width="2.8" height="1" fill="#333"/>
<line x1="457.83" y1="133.9" x2="457.83" y2="137.0" stroke="#707070" stroke-width="1"/>
<rect x="456.43" y="134.90" width="2.8" height="1" fill="#333"/>
<line x1="461.90" y1="125.7" x2="461.90" y2="139.0" stroke="#707070" stroke-width="1"/>
<rect x="460.75" y="126.70" width="2.3" height="11.30" fill="#1c6e1c" stroke="#0c300c" stroke-width="0.5"/>
<line x1="465.97" y1="102.5" x2="465.97" y2="129.8" stroke="#707070" stroke-width="1"/>
<rect x="464.82" y="108.20" width="2.3" height="18.50" fill="#1c6e1c" stroke="#0c300c" stroke-width="0.5"/>
<line x1="470.04" y1="104.4" x2="470.04" y2="121.6" stroke="#707070" stroke-width="1"/>
<rect x="468.89" y="108.20" width="2.3" height="12.40" fill="#c41c1c" stroke="#5a0c0c" stroke-width="0.5"/>
<line x1="474.10" y1="114.4" x2="474.10" y2="128.8" stroke="#707070" stroke-width="1"/>
<rect x="472.95" y="120.60" width="2.3" height="7.20" fill="#c41c1c" stroke="#5a0c0c" stroke-width="0.5"/>
<line x1="478.17" y1="124.7" x2="478.17" y2="157.6" stroke="#707070" stroke-width="1"/>
<rect x="477.02" y="125.70" width="2.3" height="30.30" fill="#c41c1c" stroke="#5a0c0c" stroke-width="0.5"/>
<line x1="482.24" y1="147.0" x2="482.24" y2="168.6" stroke="#707070" stroke-width="1"/>
<rect x="481.09" y="154.90" width="2.3" height="5.50" fill="#c41c1c" stroke="#5a0c0c" stroke-width="0.5"/>
<line x1="486.31" y1="147.0" x2="486.31" y2="165.6" stroke="#707070" stroke-width="1"/>
<rect x="485.16" y="155.70" width="2.3" height="6.80" fill="#1c6e1c" stroke="#0c300c" stroke-width="0.5"/>
<line x1="490.38" y1="138.8" x2="490.38" y2="174.2" stroke="#707070" stroke-width="1"/>
<rect x="488.98" y="155.50" width="2.8" height="1" fill="#333"/>
<line x1="494.45" y1="145.0" x2="494.45" y2="161.4" stroke="#707070" stroke-width="1"/>
<rect x="493.30" y="153.20" width="2.3" height="6.20" fill="#1c6e1c" stroke="#0c300c" stroke-width="0.5"/>
<line x1="498.52" y1="147.0" x2="498.52" y2="165.1" stroke="#707070" stroke-width="1"/>
<rect x="497.37" y="153.20" width="2.3" height="5.80" fill="#c41c1c" stroke="#5a0c0c" stroke-width="0.5"/>
<line x1="502.59" y1="145.0" x2="502.59" y2="159.4" stroke="#707070" stroke-width="1"/>
<rect x="501.44" y="147.00" width="2.3" height="11.40" fill="#1c6e1c" stroke="#0c300c" stroke-width="0.5"/>
<line x1="506.66" y1="138.5" x2="506.66" y2="158.9" stroke="#7ccf7c" stroke-width="1"/>
<line x1="510.73" y1="142.9" x2="510.73" y2="157.3" stroke="#707070" stroke-width="1"/>
<rect x="509.58" y="149.70" width="2.3" height="3.90" fill="#c41c1c" stroke="#5a0c0c" stroke-width="0.5"/>
<line x1="514.79" y1="148.3" x2="514.79" y2="158.0" stroke="#707070" stroke-width="1"/>
<rect x="513.39" y="153.10" width="2.8" height="1" fill="#333"/>
<line x1="518.86" y1="153.2" x2="518.86" y2="174.8" stroke="#707070" stroke-width="1"/>
<rect x="517.71" y="154.20" width="2.3" height="19.60" fill="#c41c1c" stroke="#5a0c0c" stroke-width="0.5"/>
<line x1="522.93" y1="172.0" x2="522.93" y2="183.0" stroke="#707070" stroke-width="1"/>
<rect x="521.78" y="172.80" width="2.3" height="2.00" fill="#1c6e1c" stroke="#0c300c" stroke-width="0.5"/>
<line x1="527.00" y1="166.6" x2="527.00" y2="182.0" stroke="#707070" stroke-width="1"/>
<rect x="525.85" y="173.40" width="2.3" height="1.00" fill="#c41c1c" stroke="#5a0c0c" stroke-width="0.5"/>
<line x1="531.07" y1="167.6" x2="531.07" y2="177.0" stroke="#707070" stroke-width="1"/>
<rect x="529.92" y="168.60" width="2.3" height="5.60" fill="#1c6e1c" stroke="#0c300c" stroke-width="0.5"/>
<line x1="535.14" y1="164.5" x2="535.14" y2="174.8" stroke="#707070" stroke-width="1"/>
<rect x="533.99" y="170.00" width="2.3" height="3.40" fill="#c41c1c" stroke="#5a0c0c" stroke-width="0.5"/>
<line x1="539.21" y1="163.5" x2="539.21" y2="190.2" stroke="#707070" stroke-width="1"/>
<rect x="538.06" y="172.80" width="2.3" height="9.20" fill="#c41c1c" stroke="#5a0c0c" stroke-width="0.5"/>
<line x1="543.28" y1="159.3" x2="543.28" y2="183.0" stroke="#707070" stroke-width="1"/>
<rect x="542.13" y="172.60" width="2.3" height="8.30" fill="#1c6e1c" stroke="#0c300c" stroke-width="0.5"/>
<line x1="547.35" y1="168.5" x2="547.35" y2="190.1" stroke="#707070" stroke-width="1"/>
<rect x="546.20" y="172.60" width="2.3" height="11.40" fill="#c41c1c" stroke="#5a0c0c" stroke-width="0.5"/>
<line x1="551.41" y1="172.6" x2="551.41" y2="189.0" stroke="#707070" stroke-width="1"/>
<rect x="550.26" y="180.90" width="2.3" height="3.70" fill="#1c6e1c" stroke="#0c300c" stroke-width="0.5"/>
<line x1="555.48" y1="181.0" x2="555.48" y2="197.7" stroke="#707070" stroke-width="1"/>
<rect x="554.33" y="184.00" width="2.3" height="4.70" fill="#c41c1c" stroke="#5a0c0c" stroke-width="0.5"/>
<line x1="559.55" y1="181.0" x2="559.55" y2="193.0" stroke="#707070" stroke-width="1"/>
<rect x="558.40" y="184.00" width="2.3" height="3.40" fill="#1c6e1c" stroke="#0c300c" stroke-width="0.5"/>
<line x1="563.62" y1="171.6" x2="563.62" y2="194.4" stroke="#707070" stroke-width="1"/>
<rect x="562.47" y="184.00" width="2.3" height="8.20" fill="#c41c1c" stroke="#5a0c0c" stroke-width="0.5"/>
<line x1="567.69" y1="175.5" x2="567.69" y2="196.3" stroke="#707070" stroke-width="1"/>
<rect x="566.54" y="176.30" width="2.3" height="15.90" fill="#1c6e1c" stroke="#0c300c" stroke-width="0.5"/>
<line x1="571.76" y1="169.5" x2="571.76" y2="201.4" stroke="#707070" stroke-width="1"/>
<rect x="570.61" y="176.30" width="2.3" height="24.10" fill="#c41c1c" stroke="#5a0c0c" stroke-width="0.5"/>
<line x1="575.83" y1="200.4" x2="575.83" y2="219.5" stroke="#707070" stroke-width="1"/>
<rect x="574.68" y="201.40" width="2.3" height="12.40" fill="#c41c1c" stroke="#5a0c0c" stroke-width="0.5"/>
<line x1="579.90" y1="207.6" x2="579.90" y2="218.9" stroke="#707070" stroke-width="1"/>
<rect x="578.75" y="209.70" width="2.3" height="4.10" fill="#1c6e1c" stroke="#0c300c" stroke-width="0.5"/>
<line x1="583.97" y1="202.5" x2="583.97" y2="213.8" stroke="#707070" stroke-width="1"/>
<rect x="582.82" y="204.50" width="2.3" height="6.80" fill="#1c6e1c" stroke="#0c300c" stroke-width="0.5"/>
<line x1="588.04" y1="200.4" x2="588.04" y2="213.8" stroke="#707070" stroke-width="1"/>
<rect x="586.89" y="203.10" width="2.3" height="1.40" fill="#1c6e1c" stroke="#0c300c" stroke-width="0.5"/>
<line x1="592.11" y1="199.4" x2="592.11" y2="209.7" stroke="#707070" stroke-width="1"/>
<rect x="590.96" y="201.90" width="2.3" height="1.20" fill="#1c6e1c" stroke="#0c300c" stroke-width="0.5"/>
<line x1="596.17" y1="196.3" x2="596.17" y2="209.7" stroke="#707070" stroke-width="1"/>
<rect x="595.02" y="203.10" width="2.3" height="2.50" fill="#c41c1c" stroke="#5a0c0c" stroke-width="0.5"/>
<line x1="600.24" y1="201.4" x2="600.24" y2="224.1" stroke="#707070" stroke-width="1"/>
<rect x="599.09" y="204.50" width="2.3" height="18.50" fill="#c41c1c" stroke="#5a0c0c" stroke-width="0.5"/>
<line x1="604.31" y1="216.9" x2="604.31" y2="225.1" stroke="#707070" stroke-width="1"/>
<rect x="603.16" y="218.90" width="2.3" height="5.20" fill="#1c6e1c" stroke="#0c300c" stroke-width="0.5"/>
<line x1="608.38" y1="202.5" x2="608.38" y2="219.9" stroke="#707070" stroke-width="1"/>
<rect x="607.23" y="205.10" width="2.3" height="13.80" fill="#1c6e1c" stroke="#0c300c" stroke-width="0.5"/>
<line x1="612.45" y1="201.0" x2="612.45" y2="207.6" stroke="#707070" stroke-width="1"/>
<rect x="611.30" y="203.10" width="2.3" height="2.00" fill="#1c6e1c" stroke="#0c300c" stroke-width="0.5"/>
<line x1="616.52" y1="200.4" x2="616.52" y2="209.7" stroke="#707070" stroke-width="1"/>
<rect x="615.37" y="202.50" width="2.3" height="3.10" fill="#1c6e1c" stroke="#0c300c" stroke-width="0.5"/>
<line x1="620.59" y1="186.0" x2="620.59" y2="206.6" stroke="#707070" stroke-width="1"/>
<rect x="619.44" y="194.20" width="2.3" height="8.90" fill="#1c6e1c" stroke="#0c300c" stroke-width="0.5"/>
<line x1="624.66" y1="189.1" x2="624.66" y2="197.3" stroke="#707070" stroke-width="1"/>
<rect x="623.51" y="190.70" width="2.3" height="4.20" fill="#1c6e1c" stroke="#0c300c" stroke-width="0.5"/>
<line x1="628.73" y1="170.6" x2="628.73" y2="195.3" stroke="#707070" stroke-width="1"/>
<rect x="627.33" y="189.60" width="2.8" height="1" fill="#333"/>
<line x1="632.79" y1="186.0" x2="632.79" y2="194.4" stroke="#707070" stroke-width="1"/>
<rect x="631.64" y="188.00" width="2.3" height="2.70" fill="#1c6e1c" stroke="#0c300c" stroke-width="0.5"/>
<line x1="636.86" y1="179.8" x2="636.86" y2="190.1" stroke="#707070" stroke-width="1"/>
<rect x="635.71" y="181.90" width="2.3" height="6.20" fill="#1c6e1c" stroke="#0c300c" stroke-width="0.5"/>
<line x1="640.93" y1="177.9" x2="640.93" y2="187.0" stroke="#707070" stroke-width="1"/>
<rect x="639.78" y="181.90" width="2.3" height="2.70" fill="#c41c1c" stroke="#5a0c0c" stroke-width="0.5"/>
<line x1="645.00" y1="179.8" x2="645.00" y2="197.3" stroke="#707070" stroke-width="1"/>
<rect x="643.85" y="184.00" width="2.3" height="2.00" fill="#c41c1c" stroke="#5a0c0c" stroke-width="0.5"/>
<line x1="649.07" y1="180.9" x2="649.07" y2="197.3" stroke="#707070" stroke-width="1"/>
<rect x="647.92" y="186.00" width="2.3" height="10.30" fill="#c41c1c" stroke="#5a0c0c" stroke-width="0.5"/>
<line x1="653.14" y1="183.9" x2="653.14" y2="198.4" stroke="#707070" stroke-width="1"/>
<rect x="651.99" y="185.40" width="2.3" height="10.90" fill="#1c6e1c" stroke="#0c300c" stroke-width="0.5"/>
<line x1="657.21" y1="178.8" x2="657.21" y2="188.1" stroke="#707070" stroke-width="1"/>
<rect x="656.06" y="180.90" width="2.3" height="5.10" fill="#1c6e1c" stroke="#0c300c" stroke-width="0.5"/>
<line x1="661.28" y1="176.7" x2="661.28" y2="184.0" stroke="#707070" stroke-width="1"/>
<rect x="659.88" y="180.80" width="2.8" height="1" fill="#333"/>
<line x1="665.35" y1="166.5" x2="665.35" y2="183.9" stroke="#707070" stroke-width="1"/>
<rect x="664.20" y="169.50" width="2.3" height="12.40" fill="#1c6e1c" stroke="#0c300c" stroke-width="0.5"/>
<line x1="669.42" y1="153.1" x2="669.42" y2="176.7" stroke="#707070" stroke-width="1"/>
<rect x="668.27" y="153.70" width="2.3" height="15.80" fill="#1c6e1c" stroke="#0c300c" stroke-width="0.5"/>
<line x1="673.49" y1="144.2" x2="673.49" y2="162.8" stroke="#707070" stroke-width="1"/>
<rect x="672.34" y="153.90" width="2.3" height="2.70" fill="#c41c1c" stroke="#5a0c0c" stroke-width="0.5"/>
<line x1="677.55" y1="154.5" x2="677.55" y2="162.8" stroke="#707070" stroke-width="1"/>
<rect x="676.40" y="156.60" width="2.3" height="4.70" fill="#c41c1c" stroke="#5a0c0c" stroke-width="0.5"/>
<line x1="681.62" y1="154.5" x2="681.62" y2="166.9" stroke="#707070" stroke-width="1"/>
<rect x="680.22" y="159.20" width="2.8" height="1" fill="#333"/>
<line x1="685.69" y1="150.4" x2="685.69" y2="162.3" stroke="#707070" stroke-width="1"/>
<rect x="684.54" y="153.10" width="2.3" height="8.20" fill="#1c6e1c" stroke="#0c300c" stroke-width="0.5"/>
<line x1="689.76" y1="151.4" x2="689.76" y2="173.0" stroke="#707070" stroke-width="1"/>
<rect x="688.61" y="153.10" width="2.3" height="19.30" fill="#c41c1c" stroke="#5a0c0c" stroke-width="0.5"/>
<line x1="693.83" y1="170.0" x2="693.83" y2="175.7" stroke="#707070" stroke-width="1"/>
<rect x="692.68" y="171.00" width="2.3" height="1.40" fill="#c41c1c" stroke="#5a0c0c" stroke-width="0.5"/>
<line x1="697.90" y1="166.9" x2="697.90" y2="176.5" stroke="#707070" stroke-width="1"/>
<rect x="696.75" y="172.00" width="2.3" height="3.70" fill="#c41c1c" stroke="#5a0c0c" stroke-width="0.5"/>
<line x1="701.97" y1="174.7" x2="701.97" y2="185.4" stroke="#707070" stroke-width="1"/>
<rect x="700.82" y="175.70" width="2.3" height="2.30" fill="#c41c1c" stroke="#5a0c0c" stroke-width="0.5"/>
<line x1="706.04" y1="161.0" x2="706.04" y2="187.0" stroke="#707070" stroke-width="1"/>
<rect x="704.89" y="161.70" width="2.3" height="16.90" fill="#1c6e1c" stroke="#0c300c" stroke-width="0.5"/>
<line x1="710.11" y1="155.6" x2="710.11" y2="180.2" stroke="#707070" stroke-width="1"/>
<rect x="708.96" y="162.10" width="2.3" height="17.10" fill="#c41c1c" stroke="#5a0c0c" stroke-width="0.5"/>
<line x1="714.18" y1="177.2" x2="714.18" y2="196.0" stroke="#707070" stroke-width="1"/>
<rect x="713.03" y="179.30" width="2.3" height="15.60" fill="#c41c1c" stroke="#5a0c0c" stroke-width="0.5"/>
<line x1="718.24" y1="184.5" x2="718.24" y2="196.0" stroke="#707070" stroke-width="1"/>
<rect x="717.09" y="186.20" width="2.3" height="8.70" fill="#1c6e1c" stroke="#0c300c" stroke-width="0.5"/>
<line x1="722.31" y1="178.3" x2="722.31" y2="189.8" stroke="#707070" stroke-width="1"/>
<rect x="721.16" y="186.00" width="2.3" height="2.20" fill="#c41c1c" stroke="#5a0c0c" stroke-width="0.5"/>
<line x1="726.38" y1="186.0" x2="726.38" y2="192.7" stroke="#707070" stroke-width="1"/>
<rect x="725.23" y="186.70" width="2.3" height="2.20" fill="#c41c1c" stroke="#5a0c0c" stroke-width="0.5"/>
<line x1="730.45" y1="188.2" x2="730.45" y2="204.8" stroke="#707070" stroke-width="1"/>
<rect x="729.30" y="189.40" width="2.3" height="11.00" fill="#c41c1c" stroke="#5a0c0c" stroke-width="0.5"/>
<line x1="734.52" y1="196.0" x2="734.52" y2="202.6" stroke="#707070" stroke-width="1"/>
<rect x="733.12" y="199.05" width="2.8" height="1" fill="#333"/>
<line x1="738.59" y1="197.3" x2="738.59" y2="216.6" stroke="#707070" stroke-width="1"/>
<rect x="737.44" y="201.50" width="2.3" height="12.20" fill="#c41c1c" stroke="#5a0c0c" stroke-width="0.5"/>
<line x1="742.66" y1="203.7" x2="742.66" y2="218.6" stroke="#707070" stroke-width="1"/>
<rect x="741.51" y="206.00" width="2.3" height="7.70" fill="#1c6e1c" stroke="#0c300c" stroke-width="0.5"/>
<line x1="746.73" y1="185.0" x2="746.73" y2="208.2" stroke="#707070" stroke-width="1"/>
<rect x="745.58" y="186.70" width="2.3" height="19.90" fill="#1c6e1c" stroke="#0c300c" stroke-width="0.5"/>
<line x1="750.80" y1="175.0" x2="750.80" y2="189.4" stroke="#707070" stroke-width="1"/>
<rect x="749.40" y="186.05" width="2.8" height="1" fill="#333"/>
<line x1="754.87" y1="183.8" x2="754.87" y2="199.3" stroke="#707070" stroke-width="1"/>
<rect x="753.47" y="187.15" width="2.8" height="1" fill="#333"/>
<line x1="758.93" y1="177.2" x2="758.93" y2="189.4" stroke="#707070" stroke-width="1"/>
<rect x="757.78" y="179.40" width="2.3" height="7.70" fill="#1c6e1c" stroke="#0c300c" stroke-width="0.5"/>
<line x1="763.00" y1="172.1" x2="763.00" y2="184.9" stroke="#707070" stroke-width="1"/>
<rect x="761.85" y="179.40" width="2.3" height="2.20" fill="#c41c1c" stroke="#5a0c0c" stroke-width="0.5"/>
<line x1="767.07" y1="179.4" x2="767.07" y2="214.8" stroke="#707070" stroke-width="1"/>
<rect x="765.92" y="180.50" width="2.3" height="33.20" fill="#c41c1c" stroke="#5a0c0c" stroke-width="0.5"/>
<line x1="771.14" y1="210.4" x2="771.14" y2="220.3" stroke="#707070" stroke-width="1"/>
<rect x="769.99" y="213.70" width="2.3" height="4.40" fill="#c41c1c" stroke="#5a0c0c" stroke-width="0.5"/>
<line x1="775.21" y1="217.7" x2="775.21" y2="248.7" stroke="#707070" stroke-width="1"/>
<rect x="774.06" y="218.60" width="2.3" height="24.10" fill="#c41c1c" stroke="#5a0c0c" stroke-width="0.5"/>
<line x1="779.28" y1="242.5" x2="779.28" y2="249.4" stroke="#707070" stroke-width="1"/>
<rect x="777.88" y="247.85" width="2.8" height="1" fill="#333"/>
<line x1="783.35" y1="240.3" x2="783.35" y2="254.2" stroke="#707070" stroke-width="1"/>
<rect x="782.20" y="248.20" width="2.3" height="2.00" fill="#c41c1c" stroke="#5a0c0c" stroke-width="0.5"/>
<line x1="787.42" y1="232.3" x2="787.42" y2="253.5" stroke="#707070" stroke-width="1"/>
<rect x="786.27" y="234.50" width="2.3" height="16.10" fill="#1c6e1c" stroke="#0c300c" stroke-width="0.5"/>
<line x1="791.49" y1="229.0" x2="791.49" y2="243.9" stroke="#707070" stroke-width="1"/>
<rect x="790.34" y="234.10" width="2.3" height="8.80" fill="#c41c1c" stroke="#5a0c0c" stroke-width="0.5"/>
<line x1="795.56" y1="232.7" x2="795.56" y2="252.0" stroke="#707070" stroke-width="1"/>
<rect x="794.41" y="238.50" width="2.3" height="4.40" fill="#1c6e1c" stroke="#0c300c" stroke-width="0.5"/>
<line x1="799.62" y1="234.9" x2="799.62" y2="248.7" stroke="#707070" stroke-width="1"/>
<rect x="798.22" y="238.70" width="2.8" height="1" fill="#333"/>
<line x1="803.69" y1="238.5" x2="803.69" y2="240.7" stroke="#707070" stroke-width="1"/>
<rect x="802.29" y="239.10" width="2.8" height="1" fill="#333"/>
<polyline points="1.0,51.6 1.7,51.2 2.7,50.6 3.9,50.0 5.1,49.5 6.3,49.2 7.5,48.9 8.8,48.7 10.3,48.5 12.0,48.2 13.9,47.8 15.8,47.5 17.5,47.5 18.9,47.8 20.0,48.3 21.2,49.0 22.6,49.5 24.3,49.9 26.1,50.3 28.0,50.7 29.8,51.2 31.4,52.0 33.0,52.9 34.5,53.8 36.0,54.7 37.5,55.5 39.0,56.2 40.6,56.9 42.2,57.4 43.9,57.7 45.7,57.7 47.6,57.8 49.4,57.8 51.3,57.8 53.2,57.9 55.0,57.9 56.6,58.2 57.8,58.6 58.8,59.0 59.7,59.7 60.7,60.9 61.9,62.7 63.1,64.9 64.4,67.4 65.8,70.1 67.3,72.9 68.8,75.8 70.4,79.0 72.0,82.5 73.5,86.7 75.1,91.4 76.7,96.1 78.2,100.0 79.8,102.9 81.3,105.2 82.9,107.2 84.4,109.2 86.0,111.2 87.5,113.1 89.0,114.9 90.5,116.4 91.9,117.6 93.2,118.6 94.5,119.5 95.7,120.5 96.8,121.9 97.9,123.4 98.9,124.8 99.8,125.7 100.6,125.8 101.2,125.4 101.9,124.9 102.9,124.7 104.2,124.9 105.7,125.4 107.3,126.0 109.0,126.7 110.7,127.6 112.6,128.7 114.5,129.9 116.3,130.8 118.1,131.3 119.8,131.7 121.6,132.1 123.5,132.9 125.6,134.5 127.8,136.6 129.9,138.7 131.7,140.1 132.9,140.5 133.7,140.2 134.6,139.9 135.8,140.1 137.6,141.0 139.6,142.3 141.8,143.7 144.0,145.2 146.1,146.7 148.2,148.3 150.2,149.9 152.3,151.4 154.4,152.8 156.4,154.1 158.5,155.3 160.5,156.3 162.6,157.0 164.7,157.5 166.8,157.9 168.7,158.5 170.4,159.3 172.0,160.1 173.5,161.0 175.0,162.0 176.5,163.1 178.1,164.4 179.6,165.7 181.0,166.7 182.3,167.4 183.6,168.0 184.9,168.4 186.2,168.9 187.7,169.3 189.3,169.6 190.9,170.0 192.3,170.6 193.5,171.4 194.5,172.2 195.5,173.3 196.5,174.7 197.5,176.5 198.5,178.5 199.5,180.7 200.6,182.9 201.8,185.1 203.0,187.4 204.3,189.5 205.7,191.2 207.3,192.3 209.1,193.1 211.0,193.6 212.9,194.2 214.9,194.7 217.0,195.1 219.1,195.6 221.2,196.3 223.3,197.3 225.4,198.5 227.5,199.8 229.4,201.4 231.1,203.3 232.6,205.4 234.1,207.6 235.6,209.7 237.1,211.9 238.5,214.1 240.0,216.1 241.7,217.9 243.6,219.1 245.7,220.0 247.9,220.9 250.0,222.0 252.1,223.6 254.2,225.4 256.3,227.3 258.2,229.2 259.9,231.0 261.4,232.8 262.9,234.6 264.4,236.4 266.0,238.4 267.6,240.6 269.2,242.4 270.5,243.5 271.5,243.5 272.2,242.8 272.8,241.8 273.5,241.0 274.2,240.5 274.9,240.0 275.8,239.6 277.0,239.3 278.7,239.2 280.9,239.2 283.1,239.3 285.2,239.3 287.1,239.3 288.9,239.2 290.6,239.2 292.3,239.3 293.9,239.7 295.5,240.3 297.0,240.9 298.5,241.3 300.1,241.6 301.7,241.8 303.3,241.8 304.7,241.7 305.9,241.5 306.9,241.2 307.8,240.7 308.8,239.7 309.8,238.1 310.9,236.0 311.9,233.7 312.9,231.5 313.9,229.4 314.8,227.2 315.8,225.1 317.0,223.2 318.4,221.4 320.0,219.8 321.6,218.3 323.2,217.1 324.8,216.3 326.5,215.7 328.1,215.4 329.4,215.0 330.3,214.7 331.0,214.5 331.6,214.2 332.3,213.8 333.2,213.5 334.3,213.3 335.3,212.6 336.4,210.7 337.4,206.9 338.4,201.7 339.5,196.3 340.5,192.0 341.5,189.4 342.4,187.7 343.4,186.1 344.6,184.0 346.0,181.2 347.5,178.0 349.1,174.5 350.8,170.6 352.5,166.0 354.2,160.9 356.0,155.8 357.9,151.5 359.9,148.3 361.9,145.8 364.0,143.6 366.1,141.2 368.2,138.6 370.4,136.0 372.5,133.4 374.4,130.9 376.1,128.3 377.6,125.6 379.0,123.2 380.5,121.6 381.9,121.0 383.3,121.2 384.9,121.8 386.7,122.2 389.2,122.5 392.0,122.9 394.8,123.3 397.0,123.7 398.2,124.0 398.8,124.2 399.3,124.5 400.0,124.9 401.1,125.4 402.4,126.0 403.8,126.7 405.2,127.5 406.7,128.5 408.2,129.7 409.8,130.9 411.4,132.0 412.9,133.0 414.4,134.0 416.0,134.8 417.6,135.4 419.4,135.8 421.3,136.0 423.1,135.9 424.8,135.6 426.2,134.8 427.4,133.6 428.6,132.3 429.9,131.5 431.4,131.3 432.9,131.4 434.5,131.6 436.1,131.5 437.6,131.0 439.1,130.4 440.6,129.5 442.3,128.5 444.3,127.2 446.4,125.8 448.5,124.2 450.5,122.8 452.2,121.6 453.7,120.4 455.2,119.3 456.7,118.0 458.3,116.6 459.9,115.1 461.4,113.6 462.8,112.0 463.9,110.3 464.8,108.6 465.8,106.8 467.0,105.0 468.6,103.1 470.4,101.1 472.4,99.3 474.3,98.0 476.2,97.3 478.2,96.9 480.1,96.9 482.1,97.0 484.1,97.2 486.1,97.7 488.0,98.3 489.8,99.2 491.5,100.3 493.0,101.8 494.5,103.3 496.0,104.8 497.5,106.4 498.9,108.1 500.4,109.7 502.2,111.0 504.3,112.1 506.7,112.9 509.2,113.6 511.5,114.1 513.7,114.4 515.9,114.6 518.0,114.6 520.0,114.5 521.9,114.2 523.7,113.7 525.4,113.2 527.3,113.0 529.4,113.1 531.5,113.5 533.7,113.9 535.6,114.5 537.3,115.1 538.9,115.8 540.4,116.7 541.7,117.8 542.8,119.2 543.8,120.8 544.7,122.6 545.8,124.4 547.0,126.3 548.3,128.4 549.7,130.5 551.0,132.6 552.2,134.8 553.2,137.0 554.5,139.0 556.1,140.5 558.4,141.2 561.1,141.4 563.8,141.4 566.4,141.3 568.7,141.2 570.8,141.0 572.8,140.9 574.7,140.9 576.4,141.1 577.9,141.4 579.3,142.0 580.8,142.9 582.4,144.3 583.9,146.0 585.5,148.0 587.3,150.0 589.3,152.2 591.6,154.6 593.8,156.8 595.6,158.5 596.9,159.3 597.8,159.5 598.7,159.5 600.0,159.8 601.9,160.4 604.2,161.1 606.6,162.0 608.9,163.1 611.1,164.6 613.2,166.3 615.3,168.1 617.7,169.8 620.4,171.4 623.2,172.9 626.1,174.3 628.8,175.3 631.2,175.9 633.5,176.2 635.6,176.3 637.6,176.4 639.5,176.5 641.2,176.6 642.8,176.7 644.3,176.9 645.5,177.3 646.5,177.8 647.5,178.2 648.6,178.4 649.9,178.2 651.4,177.9 652.9,177.3 654.4,176.7 655.9,176.0 657.3,175.1 658.8,174.1 660.1,173.1 661.3,172.0 662.5,170.8 663.5,169.5 664.5,168.1 665.3,166.6 666.0,164.9 666.6,163.2 667.3,161.6 668.0,160.0 668.7,158.5 669.4,157.0 670.2,155.8 671.2,154.9 672.3,154.1 673.4,153.5 674.5,152.9 675.6,152.3 676.6,151.8 677.7,151.3 678.8,150.8 679.9,150.3 681.0,149.8 682.1,149.3 683.2,148.9 684.2,148.5 685.3,148.0 686.3,147.7 687.5,147.5 688.8,147.5 690.2,147.7 691.6,148.0 693.2,148.3 694.9,148.6 696.6,148.9 698.5,149.2 700.4,149.4 702.4,149.4 704.5,149.3 706.7,149.1 709.1,148.9 711.8,148.8 714.7,148.6 717.5,148.5 720.0,148.3 721.9,148.2 723.5,148.1 724.9,147.9 726.4,147.7 728.0,147.4 729.5,147.2 731.1,146.8 732.6,146.3 734.2,145.6 735.7,144.6 737.3,143.8 738.8,143.2 740.3,143.0 741.9,142.9 743.4,143.1 744.9,143.6 746.4,144.4 747.9,145.6 749.4,147.0 751.1,148.4 753.0,150.0 755.1,151.7 757.2,153.5 759.3,155.1 761.5,156.6 763.7,158.0 765.8,159.3 767.6,160.1 768.9,160.5 769.8,160.5 770.6,160.2 771.7,159.7 773.1,158.8 774.7,157.4 776.4,156.1 777.9,155.1 779.3,154.4 780.5,153.9 781.8,153.7 783.0,153.9 784.2,154.7 785.5,156.0 786.7,157.5 788.1,158.6 789.5,159.2 790.9,159.6 792.5,160.0 794.3,160.7 796.6,161.9 799.3,163.4 801.9,164.8 803.6,165.8" fill="none" stroke="#222268" stroke-width="1.45" stroke-linejoin="round"/>
<polyline points="1.0,133.9 2.6,133.0 5.0,131.7 7.7,130.2 10.3,128.8 12.8,127.5 15.4,126.1 18.0,124.8 20.6,123.6 23.2,122.5 25.8,121.4 28.3,120.4 30.9,119.5 33.5,118.6 36.1,117.6 38.7,116.8 41.2,116.2 43.7,115.8 46.1,115.5 48.4,115.4 50.4,115.4 52.0,115.5 53.2,115.8 54.3,116.1 55.6,116.6 57.1,117.2 58.6,117.8 60.1,118.7 61.7,119.8 63.2,121.2 64.8,122.9 66.3,124.8 67.9,126.7 69.5,128.8 71.1,131.0 72.7,133.1 74.1,135.0 75.3,136.5 76.3,137.7 77.2,138.8 78.2,140.0 79.1,141.2 80.0,142.5 81.0,143.8 82.3,145.2 84.1,146.9 86.1,148.8 88.3,150.7 90.5,152.4 92.4,153.7 94.1,154.9 96.2,156.1 98.8,157.6 102.4,159.7 106.7,162.2 111.2,164.7 115.2,166.7 118.5,168.0 121.4,168.7 124.3,169.5 127.6,170.9 131.5,173.0 135.7,175.5 139.9,178.3 144.0,181.2 147.7,184.4 151.2,187.9 154.7,191.4 158.4,194.5 162.6,197.2 167.2,199.6 171.5,201.8 174.9,203.8 176.9,205.5 177.8,206.8 178.6,208.1 180.0,209.7 182.2,211.5 184.8,213.5 187.6,215.6 190.3,217.9 192.9,220.6 195.5,223.5 198.0,226.4 200.6,229.2 203.3,231.8 206.1,234.3 208.7,236.6 210.9,238.5 212.4,239.8 213.4,240.6 214.4,241.4 216.0,242.5 218.3,244.1 221.1,246.0 224.2,248.0 227.6,250.0 231.5,252.0 235.8,254.1 240.1,256.2 244.0,258.2 247.5,260.2 250.7,262.1 253.7,263.9 256.4,265.4 258.6,266.6 260.5,267.5 262.4,268.1 264.6,268.5 267.4,268.5 270.5,268.3 273.8,267.9 277.0,267.5 280.1,267.2 283.3,266.8 286.4,266.5 289.3,266.0 292.0,265.4 294.5,264.8 297.0,264.1 299.6,263.4 302.4,262.7 305.2,261.9 308.1,261.2 310.9,260.3 313.6,259.3 316.2,258.2 318.8,257.2 321.2,256.2 323.4,255.4 325.6,254.6 327.5,253.9 329.4,253.1 331.1,252.2 332.6,251.3 334.1,250.3 335.6,249.0 337.1,247.4 338.5,245.6 340.0,243.7 341.7,241.7 343.6,239.7 345.7,237.7 347.9,235.6 350.0,233.5 352.1,231.3 354.2,229.0 356.2,226.6 358.2,224.3 360.1,222.0 361.9,219.7 363.6,217.4 365.4,215.0 367.1,212.5 368.8,209.8 370.6,207.1 372.3,204.6 374.2,202.1 376.1,199.6 377.9,197.3 379.6,195.3 380.9,193.7 382.1,192.4 383.2,191.2 384.6,189.8 386.4,188.1 388.6,186.4 390.7,184.7 392.5,183.3 393.9,182.4 395.1,181.8 396.3,181.3 397.5,180.9 398.9,180.5 400.2,180.3 401.7,180.1 403.2,179.7 404.8,179.1 406.4,178.5 408.1,177.8 409.8,177.2 411.4,176.7 413.1,176.3 414.7,176.0 416.3,175.8 417.9,175.8 419.6,176.0 421.2,176.2 422.9,176.2 424.6,176.0 426.2,175.6 427.9,175.2 429.5,174.9 431.1,174.8 432.7,174.9 434.4,175.0 436.0,174.9 437.6,174.7 439.3,174.3 441.0,173.9 442.6,173.5 444.2,173.0 445.9,172.4 447.5,171.8 449.1,171.3 450.8,170.9 452.5,170.6 454.2,170.3 455.7,170.0 457.0,169.9 458.3,169.8 459.4,169.7 460.6,169.4 461.8,168.9 463.0,168.1 464.3,167.4 465.5,166.6 466.8,165.9 468.0,165.1 469.3,164.4 470.5,163.7 471.6,163.0 472.8,162.4 473.9,161.8 475.0,161.2 476.2,160.6 477.4,160.1 478.6,159.6 480.0,159.0 481.6,158.3 483.3,157.6 485.0,156.8 486.7,155.9 488.3,155.0 489.8,154.0 491.3,153.0 493.0,152.0 494.9,151.0 496.9,150.0 498.9,149.0 500.6,148.1 501.9,147.2 502.9,146.4 503.9,145.7 505.0,145.2 506.3,145.1 507.7,145.2 509.1,145.3 510.3,145.4 511.3,145.3 512.1,145.1 512.9,144.8 513.8,144.7 514.9,144.7 516.0,144.7 517.2,144.7 518.3,144.9 519.4,145.2 520.5,145.6 521.5,146.1 522.7,146.5 524.0,146.9 525.3,147.3 526.7,147.8 528.0,148.3 529.3,148.8 530.6,149.4 532.0,150.1 533.3,150.7 534.6,151.4 536.0,152.2 537.3,152.9 538.6,153.6 539.8,154.2 540.9,154.6 541.9,155.1 543.0,155.8 544.1,156.7 545.1,157.7 546.2,158.7 547.4,159.8 548.7,160.9 550.1,162.1 551.5,163.3 552.7,164.2 553.7,164.9 554.5,165.4 555.2,165.8 556.0,166.2 556.8,166.5 557.6,166.7 558.4,166.9 559.4,167.2 560.6,167.6 562.0,168.0 563.5,168.5 564.8,168.9 566.1,169.3 567.3,169.7 568.5,170.1 569.5,170.6 570.4,171.1 571.2,171.7 571.9,172.2 572.6,172.8 573.2,173.3 573.6,173.8 574.1,174.4 575.0,175.1 576.2,176.0 577.6,177.0 579.3,178.2 581.2,179.5 583.5,181.0 586.0,182.7 588.7,184.4 591.4,186.0 594.0,187.5 596.5,188.9 599.1,190.3 601.7,191.5 604.3,192.6 606.9,193.7 609.4,194.6 612.0,195.5 614.6,196.3 617.1,197.1 619.7,197.8 622.3,198.4 624.9,198.8 627.6,199.1 630.2,199.3 632.6,199.5 634.7,199.6 636.5,199.7 638.2,199.8 640.0,199.9 641.8,200.0 643.7,200.1 645.5,200.2 647.1,200.3 648.6,200.4 649.9,200.6 651.1,200.6 652.4,200.5 653.7,200.1 654.9,199.5 656.2,198.8 657.7,198.1 659.4,197.4 661.3,196.6 663.2,195.7 664.8,195.0 665.9,194.4 666.8,193.8 667.6,193.2 668.8,192.5 670.4,191.6 672.2,190.6 674.1,189.4 676.0,188.2 677.8,186.8 679.6,185.2 681.4,183.7 683.2,182.4 685.0,181.5 686.8,180.8 688.6,180.2 690.4,179.6 692.2,178.9 694.0,178.1 695.8,177.4 697.6,176.7 699.4,176.1 701.2,175.5 702.9,175.0 704.7,174.5 706.5,174.1 708.2,173.8 710.0,173.5 711.9,173.4 713.9,173.4 716.1,173.5 718.2,173.7 720.0,173.8 721.5,173.9 722.6,174.0 723.8,174.2 725.2,174.3 726.8,174.4 728.5,174.4 730.4,174.6 732.6,175.1 735.2,176.2 738.2,177.6 741.3,179.1 744.3,180.5 747.1,181.7 749.8,182.8 752.6,183.8 755.3,184.9 758.1,186.0 761.0,187.0 763.8,188.1 766.4,189.4 768.8,191.0 771.1,192.7 773.3,194.4 775.3,196.0 777.1,197.3 778.7,198.4 780.2,199.5 781.7,200.5 783.2,201.5 784.7,202.5 786.2,203.5 787.9,204.6 789.7,205.9 791.6,207.3 793.6,208.8 795.6,210.1 797.7,211.4 800.0,212.7 802.1,213.9 803.5,214.7" fill="none" stroke="#222268" stroke-width="1.45" stroke-linejoin="round"/>
<polyline points="1.0,215.1 3.0,213.5 5.9,211.2 9.1,208.5 12.3,205.8 15.3,203.2 18.4,200.5 21.6,197.6 24.7,194.5 27.8,190.9 31.0,187.0 34.1,183.2 37.0,180.1 39.8,177.7 42.5,175.7 45.1,174.2 47.3,173.3 49.1,173.0 50.5,173.4 51.9,174.1 53.5,175.0 55.3,176.1 57.2,177.6 59.3,179.0 61.7,180.1 64.6,180.7 67.9,180.9 71.2,181.0 74.1,181.2 76.3,181.4 78.2,181.4 80.1,181.7 82.3,182.2 85.2,183.1 88.5,184.4 91.8,185.8 94.7,187.3 97.1,189.0 99.2,190.9 101.1,192.8 102.9,194.5 104.6,196.0 106.1,197.4 107.5,198.7 109.0,199.7 110.5,200.5 112.0,201.0 113.5,201.4 115.2,201.7 117.1,201.7 119.2,201.5 121.4,201.4 123.5,201.7 125.6,202.5 127.6,203.6 129.7,205.0 131.7,206.9 133.8,209.3 135.8,212.2 137.8,215.3 139.9,218.2 141.9,220.9 144.0,223.6 146.0,226.2 148.1,228.5 150.2,230.4 152.3,231.9 154.4,233.4 156.4,235.0 158.3,236.9 160.1,239.0 161.9,241.0 163.8,242.8 165.7,244.3 167.7,245.6 169.8,246.8 172.0,248.0 174.3,249.1 176.8,250.0 179.4,251.2 182.3,253.0 185.7,255.8 189.5,259.4 193.3,263.1 196.7,266.4 199.6,269.2 202.3,271.7 204.7,274.2 207.0,276.7 209.1,279.3 210.9,281.9 212.6,284.4 214.2,287.0 215.6,289.7 216.8,292.5 218.0,295.2 219.3,297.3 220.7,298.9 222.2,300.0 223.8,300.8 225.5,301.2 227.4,301.2 229.5,300.7 231.6,300.0 233.7,299.4 235.8,298.7 237.8,297.9 239.9,297.2 242.0,296.9 244.0,297.4 246.0,298.3 248.0,299.3 250.2,299.8 252.6,299.6 255.2,299.0 257.9,298.1 260.5,297.3 263.1,296.3 265.8,295.2 268.4,294.2 270.8,293.6 273.0,293.6 275.2,294.0 277.2,294.5 279.0,294.8 280.7,294.8 282.2,294.7 283.6,294.5 285.0,294.3 286.4,294.3 287.6,294.3 288.9,294.2 290.3,293.6 291.8,292.3 293.5,290.5 295.1,288.6 296.5,287.0 297.6,285.7 298.6,284.6 299.6,283.7 300.6,282.9 301.8,282.2 303.1,281.5 304.4,281.1 305.7,281.3 306.9,282.2 308.0,283.8 309.2,285.5 310.9,287.0 313.3,288.2 316.1,289.4 318.9,290.4 321.2,291.1 322.6,291.6 323.6,291.8 324.3,291.8 325.3,291.5 326.5,290.7 327.9,289.5 329.2,288.1 330.4,287.0 331.5,285.9 332.4,284.8 333.4,284.0 334.5,283.9 335.7,284.9 337.0,286.7 338.3,288.7 339.7,290.1 341.2,290.7 342.7,290.9 344.3,290.9 345.8,291.1 347.2,291.5 348.5,292.0 349.7,292.5 351.0,293.2 352.3,294.2 353.5,295.3 354.8,296.4 356.1,296.9 357.4,296.8 358.7,296.2 360.0,295.3 361.3,294.2 362.5,293.0 363.7,291.6 364.9,290.0 366.4,288.0 368.3,285.5 370.5,282.6 372.7,279.6 374.7,276.7 376.4,274.2 377.9,271.8 379.3,269.3 380.8,266.4 382.3,262.8 383.8,258.7 385.3,254.6 387.0,251.0 388.9,248.0 391.0,245.3 393.1,242.9 395.2,240.7 397.3,238.8 399.4,237.1 401.5,235.4 403.5,233.5 405.4,231.1 407.2,228.3 409.0,225.6 410.7,223.2 412.3,221.0 413.8,219.0 415.3,217.3 416.7,216.3 417.9,216.2 419.0,216.8 420.2,217.6 422.0,218.1 424.6,218.3 427.8,218.3 431.2,218.3 434.3,218.4 437.0,218.5 439.6,218.7 442.1,218.9 444.6,219.3 447.2,219.9 449.9,220.6 452.5,221.4 454.9,222.2 457.2,222.9 459.4,223.5 461.4,224.2 463.1,224.8 464.3,225.4 465.2,226.0 466.0,226.5 467.2,226.9 468.9,227.2 470.9,227.3 472.9,227.3 474.7,227.0 476.1,226.3 477.2,225.2 478.2,224.0 479.3,222.8 480.4,221.6 481.6,220.4 482.7,219.1 484.0,217.4 485.5,215.4 487.1,213.1 488.7,210.6 490.2,208.1 491.5,205.5 492.6,202.7 493.7,200.0 494.8,197.2 496.0,194.4 497.2,191.6 498.4,188.8 499.5,186.4 500.4,184.3 501.1,182.5 501.8,180.8 502.6,179.4 503.5,178.1 504.5,177.0 505.4,176.1 506.4,175.5 507.4,175.2 508.3,175.2 509.3,175.3 510.3,175.2 511.3,174.8 512.2,174.2 513.2,173.7 514.2,173.6 515.2,173.9 516.1,174.6 517.1,175.4 518.1,176.3 519.2,177.2 520.4,178.2 521.5,179.3 522.7,180.2 523.9,181.1 525.1,181.9 526.3,182.6 527.4,183.3 528.3,183.8 529.2,184.1 530.1,184.5 531.4,185.3 533.3,186.8 535.7,188.8 538.0,190.8 540.0,192.1 541.5,192.6 542.7,192.5 543.7,192.2 544.7,192.0 545.6,191.8 546.3,191.5 547.0,191.2 547.8,191.0 548.7,190.8 549.7,190.6 550.7,190.5 551.6,190.4 552.4,190.4 553.2,190.4 554.0,190.6 554.7,190.7 555.3,190.9 555.9,191.1 556.5,191.3 557.1,191.7 557.8,192.2 558.6,192.8 559.4,193.5 560.2,194.1 561.0,194.6 561.8,195.2 562.5,195.6 563.3,196.0 564.1,196.2 564.8,196.4 565.6,196.5 566.4,196.8 567.1,197.0 567.7,197.2 568.4,197.8 569.5,199.1 571.1,201.7 573.2,205.3 575.3,208.9 577.0,211.7 578.2,213.3 579.1,214.3 579.9,214.9 581.2,215.4 583.0,215.6 585.2,215.6 587.4,215.4 589.4,215.4 591.1,215.4 592.6,215.5 594.1,215.7 595.6,216.3 597.1,217.4 598.7,219.0 600.2,220.6 601.7,222.0 603.2,223.2 604.7,224.4 606.2,225.4 607.9,226.1 609.8,226.4 611.7,226.3 613.9,226.1 616.1,225.7 618.5,225.1 621.1,224.4 623.8,223.6 626.4,223.0 629.1,222.6 632.0,222.2 634.6,222.0 636.7,222.0 638.0,222.2 638.7,222.6 639.2,223.0 640.0,223.3 641.2,223.4 642.5,223.4 643.9,223.2 645.3,223.1 646.6,222.9 647.8,222.6 649.1,222.3 650.6,222.0 652.3,221.7 654.1,221.5 656.0,221.3 657.7,221.1 659.2,220.9 660.6,220.8 661.8,220.7 663.0,220.7 664.0,220.8 664.9,220.9 665.7,221.2 666.5,221.5 667.4,222.0 668.3,222.7 669.2,223.4 670.1,224.0 671.0,224.4 671.9,224.7 672.7,224.8 673.6,224.9 674.5,224.9 675.4,224.9 676.3,224.7 677.2,224.2 678.0,223.3 678.8,222.0 679.7,220.7 680.7,219.3 681.9,218.0 683.2,216.6 684.6,215.3 686.0,214.0 687.3,212.8 688.6,211.6 690.0,210.4 691.3,209.2 692.6,208.0 693.9,206.8 695.3,205.7 696.6,204.7 697.9,203.8 699.1,203.1 700.4,202.3 701.9,201.6 703.6,200.7 705.4,199.8 707.3,199.0 709.0,198.5 710.4,198.4 711.7,198.7 713.0,199.0 714.3,199.4 715.6,199.8 716.9,200.2 718.3,200.6 720.0,201.0 722.0,201.3 724.3,201.6 726.7,201.9 728.8,202.6 730.7,203.7 732.4,205.2 734.0,206.7 735.4,208.2 736.4,209.7 737.1,211.2 737.8,212.6 738.7,213.7 739.9,214.3 741.2,214.6 742.6,214.8 744.3,214.8 746.3,214.7 748.6,214.6 751.0,214.3 753.1,214.1 755.0,214.0 756.9,213.8 758.6,213.7 760.0,213.6 761.0,213.5 761.7,213.3 762.4,213.2 763.1,213.2 764.1,213.3 765.1,213.5 766.1,213.8 767.0,214.2 767.7,214.7 768.2,215.3 768.7,216.0 769.3,217.0 770.0,218.3 770.8,219.8 771.6,221.5 772.4,223.2 773.2,224.9 774.0,226.6 774.7,228.4 775.5,230.2 776.3,232.0 777.0,233.7 777.8,235.5 778.6,237.2 779.4,239.0 780.2,240.7 780.9,242.5 781.7,244.1 782.4,245.6 783.2,246.9 783.9,248.2 784.8,249.5 785.8,250.9 787.0,252.4 788.2,253.8 789.4,255.0 790.6,255.9 791.8,256.6 792.9,257.3 794.1,258.0 795.3,258.9 796.4,259.8 797.5,260.7 798.7,261.6 800.0,262.5 801.4,263.4 802.6,264.2 803.5,264.7" fill="none" stroke="#222268" stroke-width="1.45" stroke-linejoin="round"/>
<line x1="461.3" y1="96.1" x2="860.2" y2="159.3" stroke="#3333a6" stroke-width="1.35"/>
<line x1="424.8" y1="198.3" x2="823.7" y2="261.7" stroke="#3333a6" stroke-width="1.35"/>
<line x1="1.35" y1="0.8" x2="1.35" y2="441.5" stroke="#a0a0a0" stroke-width="1.1"/>
<line x1="0.8" y1="1.35" x2="952" y2="1.35" stroke="#a0a0a0" stroke-width="1.1"/>
<line x1="951.7" y1="0.8" x2="951.7" y2="441.5" stroke="#a8a8a8" stroke-width="1.5"/>
<line x1="0" y1="441.2" x2="952" y2="441.2" stroke="#8c8c8c" stroke-width="1"/>
<line x1="1.5" y1="364.3" x2="952" y2="364.3" stroke="#333" stroke-width="1.5"/>
<line x1="952" y1="10.0" x2="953.3" y2="10.0" stroke="#222" stroke-width="1"/>
<line x1="952" y1="26.8" x2="953.3" y2="26.8" stroke="#222" stroke-width="1"/>
<line x1="952" y1="43.6" x2="953.3" y2="43.6" stroke="#222" stroke-width="1"/>
<line x1="952" y1="60.4" x2="953.3" y2="60.4" stroke="#222" stroke-width="1"/>
<line x1="952" y1="77.2" x2="953.3" y2="77.2" stroke="#222" stroke-width="1"/>
<line x1="952" y1="94.0" x2="953.3" y2="94.0" stroke="#222" stroke-width="1"/>
<line x1="952" y1="110.8" x2="953.3" y2="110.8" stroke="#222" stroke-width="1"/>
<line x1="952" y1="127.6" x2="953.3" y2="127.6" stroke="#222" stroke-width="1"/>
<line x1="952" y1="144.4" x2="953.3" y2="144.4" stroke="#222" stroke-width="1"/>
<line x1="952" y1="161.2" x2="953.3" y2="161.2" stroke="#222" stroke-width="1"/>
<line x1="952" y1="178.0" x2="953.3" y2="178.0" stroke="#222" stroke-width="1"/>
<line x1="952" y1="194.8" x2="953.3" y2="194.8" stroke="#222" stroke-width="1"/>
<line x1="952" y1="211.6" x2="953.3" y2="211.6" stroke="#222" stroke-width="1"/>
<line x1="952" y1="228.4" x2="953.3" y2="228.4" stroke="#222" stroke-width="1"/>
<line x1="952" y1="245.2" x2="953.3" y2="245.2" stroke="#222" stroke-width="1"/>
<line x1="952" y1="262.0" x2="953.3" y2="262.0" stroke="#222" stroke-width="1"/>
<line x1="952" y1="278.8" x2="953.3" y2="278.8" stroke="#222" stroke-width="1"/>
<line x1="952" y1="295.6" x2="953.3" y2="295.6" stroke="#222" stroke-width="1"/>
<line x1="952" y1="312.4" x2="953.3" y2="312.4" stroke="#222" stroke-width="1"/>
<line x1="952" y1="329.2" x2="953.3" y2="329.2" stroke="#222" stroke-width="1"/>
<line x1="952" y1="346.0" x2="953.3" y2="346.0" stroke="#222" stroke-width="1"/>
<line x1="952" y1="362.8" x2="953.3" y2="362.8" stroke="#222" stroke-width="1"/>
<text class="t" x="955" y="11.7" font-size="4.8" fill="#222" textLength="17.2" lengthAdjust="spacingAndGlyphs">1.14435</text>
<text class="t" x="955" y="28.5" font-size="4.8" fill="#222" textLength="17.2" lengthAdjust="spacingAndGlyphs">1.13850</text>
<text class="t" x="955" y="45.3" font-size="4.8" fill="#222" textLength="17.2" lengthAdjust="spacingAndGlyphs">1.13280</text>
<text class="t" x="955" y="62.1" font-size="4.8" fill="#222" textLength="17.2" lengthAdjust="spacingAndGlyphs">1.12695</text>
<text class="t" x="955" y="78.9" font-size="4.8" fill="#222" textLength="17.2" lengthAdjust="spacingAndGlyphs">1.12125</text>
<text class="t" x="955" y="95.7" font-size="4.8" fill="#222" textLength="17.2" lengthAdjust="spacingAndGlyphs">1.11540</text>
<text class="t" x="955" y="112.5" font-size="4.8" fill="#222" textLength="17.2" lengthAdjust="spacingAndGlyphs">1.10970</text>
<text class="t" x="955" y="129.3" font-size="4.8" fill="#222" textLength="17.2" lengthAdjust="spacingAndGlyphs">1.10385</text>
<text class="t" x="955" y="146.1" font-size="4.8" fill="#222" textLength="17.2" lengthAdjust="spacingAndGlyphs">1.09815</text>
<text class="t" x="955" y="162.9" font-size="4.8" fill="#222" textLength="17.2" lengthAdjust="spacingAndGlyphs">1.09230</text>
<text class="t" x="955" y="179.7" font-size="4.8" fill="#222" textLength="17.2" lengthAdjust="spacingAndGlyphs">1.08660</text>
<text class="t" x="955" y="196.5" font-size="4.8" fill="#222" textLength="17.2" lengthAdjust="spacingAndGlyphs">1.08075</text>
<text class="t" x="955" y="213.3" font-size="4.8" fill="#222" textLength="17.2" lengthAdjust="spacingAndGlyphs">1.07505</text>
<text class="t" x="955" y="230.1" font-size="4.8" fill="#222" textLength="17.2" lengthAdjust="spacingAndGlyphs">1.06935</text>
<text class="t" x="955" y="246.9" font-size="4.8" fill="#222" textLength="17.2" lengthAdjust="spacingAndGlyphs">1.06350</text>
<text class="t" x="955" y="263.7" font-size="4.8" fill="#222" textLength="17.2" lengthAdjust="spacingAndGlyphs">1.05780</text>
<text class="t" x="955" y="280.5" font-size="4.8" fill="#222" textLength="17.2" lengthAdjust="spacingAndGlyphs">1.05195</text>
<text class="t" x="955" y="297.3" font-size="4.8" fill="#222" textLength="17.2" lengthAdjust="spacingAndGlyphs">1.04625</text>
<text class="t" x="955" y="314.1" font-size="4.8" fill="#222" textLength="17.2" lengthAdjust="spacingAndGlyphs">1.04040</text>
<text class="t" x="955" y="330.9" font-size="4.8" fill="#222" textLength="17.2" lengthAdjust="spacingAndGlyphs">1.03470</text>
<text class="t" x="955" y="347.7" font-size="4.8" fill="#222" textLength="17.2" lengthAdjust="spacingAndGlyphs">1.02885</text>
<text class="t" x="955" y="364.5" font-size="4.8" fill="#222" textLength="17.2" lengthAdjust="spacingAndGlyphs">1.02315</text>
<rect x="952.5" y="133.6" width="20.8" height="5.2" fill="#e00000"/>
<text class="t" x="955" y="137.9" font-size="4.8" fill="#fff" textLength="17.2" lengthAdjust="spacingAndGlyphs">1.10100</text>
<rect x="952.5" y="168.5" width="20.8" height="5.2" fill="#e00000"/>
<text class="t" x="955" y="172.8" font-size="4.8" fill="#fff" textLength="17.2" lengthAdjust="spacingAndGlyphs">1.08900</text>
<rect x="952.5" y="211.4" width="20.8" height="5.2" fill="#e00000"/>
<text class="t" x="955" y="215.7" font-size="4.8" fill="#fff" textLength="17.2" lengthAdjust="spacingAndGlyphs">1.07400</text>
<rect x="952.5" y="237.4" width="20.8" height="5.2" fill="#111"/>
<text class="t" x="955" y="241.7" font-size="4.8" fill="#fff" textLength="17.2" lengthAdjust="spacingAndGlyphs">1.06526</text>
<rect x="952.5" y="248.1" width="20.8" height="5.2" fill="#1e6e1e"/>
<text class="t" x="955" y="252.4" font-size="4.8" fill="#fff" textLength="17.2" lengthAdjust="spacingAndGlyphs">1.06150</text>
<rect x="952.5" y="296.4" width="20.8" height="5.2" fill="#1e6e1e"/>
<text class="t" x="955" y="300.7" font-size="4.8" fill="#fff" textLength="17.2" lengthAdjust="spacingAndGlyphs">1.04500</text>
<rect x="952.5" y="341.4" width="20.8" height="5.2" fill="#1e6e1e"/>
<text class="t" x="955" y="345.7" font-size="4.8" fill="#fff" textLength="17.2" lengthAdjust="spacingAndGlyphs">1.02950</text>
<text class="t" x="949.5" y="131.5" font-size="14.2" fill="#c8282d" text-anchor="end" textLength="71.5" lengthAdjust="spacingAndGlyphs">R3 - 1.1010</text>
<text class="t" x="949.5" y="167.4" font-size="14.2" fill="#c8282d" text-anchor="end" textLength="71.5" lengthAdjust="spacingAndGlyphs">R2 - 1.0890</text>
<text class="t" x="949.5" y="213.8" font-size="14.2" fill="#c8282d" text-anchor="end" textLength="71.5" lengthAdjust="spacingAndGlyphs">R1 - 1.0740</text>
<text class="t" x="949.5" y="268.6" font-size="14.2" fill="#2a7a2a" text-anchor="end" textLength="71.5" lengthAdjust="spacingAndGlyphs">S1 - 1.0615</text>
<text class="t" x="949.5" y="312.1" font-size="14.2" fill="#2a7a2a" text-anchor="end" textLength="71.5" lengthAdjust="spacingAndGlyphs">S2 - 1.0450</text>
<text class="t" x="949.5" y="356.2" font-size="14.2" fill="#2a7a2a" text-anchor="end" textLength="71.5" lengthAdjust="spacingAndGlyphs">S3 - 1.0295</text>
<path d="M3.4,4.5 L6.4,4.5 L4.9,6.7 Z" fill="#111"/>
<text class="t" x="9.1" y="7.6" font-size="4.8" fill="#333" textLength="32.5" lengthAdjust="spacingAndGlyphs">EURUSD,Daily</text>
<text class="t" x="44.7" y="7.6" font-size="4.8" fill="#333" textLength="17.3" lengthAdjust="spacingAndGlyphs">1.06527</text>
<text class="t" x="63.3" y="7.6" font-size="4.8" fill="#333" textLength="16.7" lengthAdjust="spacingAndGlyphs">1.06602</text>
<text class="t" x="81.6" y="7.6" font-size="4.8" fill="#333" textLength="16.8" lengthAdjust="spacingAndGlyphs">1.06468</text>
<text class="t" x="100" y="7.6" font-size="4.8" fill="#333" textLength="17.0" lengthAdjust="spacingAndGlyphs">1.06526</text>
<line x1="1.5" y1="388.7" x2="951" y2="388.7" stroke="#c8c8c8" stroke-width="0.9" stroke-dasharray="1.2 2"/>
<line x1="1.5" y1="403.4" x2="951" y2="403.4" stroke="#c8c8c8" stroke-width="0.9" stroke-dasharray="1.2 2"/>
<line x1="1.5" y1="418.8" x2="951" y2="418.8" stroke="#c8c8c8" stroke-width="0.9" stroke-dasharray="1.2 2"/>
<polyline points="1.0,394.4 4.1,395.2 8.2,400.0 12.3,401.4 17.4,399.3 21.5,406.7 25.6,404.1 29.7,405.5 33.8,406.1 39.0,409.2 42.1,408.8 47.2,403.0 50.3,404.1 55.0,407.5 58.5,406.1 62.6,405.1 66.7,407.5 70.8,410.6 75.9,410.8 80.0,412.5 84.1,413.3 88.2,413.3 91.3,410.6 95.4,413.7 99.5,411.6 103.6,414.9 106.7,416.4 110.8,413.3 114.9,408.2 119.6,403.0 124.1,408.2 128.2,413.3 131.3,411.6 136.4,415.3 140.5,414.9 145.6,416.8 148.7,415.7 152.8,410.8 156.9,410.6 161.0,412.7 165.1,417.0 169.2,414.9 173.3,411.6 177.4,412.9 182.6,413.9 186.7,414.5 190.8,416.8 194.9,418.4 198.1,419.8 201.2,422.1 205.3,415.7 209.0,414.9 213.5,419.0 216.5,420.3 221.7,415.3 225.8,411.2 229.9,407.5 234.0,409.2 238.1,406.1 241.2,404.7 245.3,410.2 249.4,412.3 254.5,407.5 258.6,406.5 262.3,408.8 266.8,405.5 270.9,404.1 274.0,398.9 278.1,404.1 282.2,405.9 286.3,406.1 290.4,406.1 294.5,402.6 298.6,405.1 302.7,405.9 306.8,402.0 311.5,394.4 315.0,395.2 319.1,396.9 323.2,396.9 327.9,400.0 331.4,398.9 335.5,398.1 339.6,388.7 343.7,391.3 347.8,390.7 351.9,388.7 355.6,387.2 360.1,390.3 364.2,392.8 368.3,391.3 372.4,389.7 376.5,388.7 380.6,387.6 383.7,389.7 387.8,397.3 390.5,397.8 392.5,398.5 396.2,402.0 400.3,405.1 404.4,407.1 408.5,404.7 413.0,407.5 416.7,406.7 420.8,404.1 424.9,398.5 429.0,392.4 433.1,398.9 437.2,397.3 441.3,394.8 445.4,397.3 449.5,394.8 453.6,394.8 457.7,393.8 461.8,392.4 465.5,390.1 469.6,393.2 474.1,395.8 478.2,402.6 482.3,404.7 486.0,402.6 490.1,403.0 494.2,402.4 498.3,404.1 502.4,400.4 506.5,400.4 510.6,402.6 514.7,403.0 518.8,408.8 522.9,407.5 527.0,408.8 531.1,406.1 535.2,407.5 539.3,409.8 543.4,406.7 547.5,410.2 551.6,408.8 555.7,411.2 559.8,409.2 563.9,411.2 567.4,405.5 571.5,411.2 575.6,414.7 579.7,413.3 583.8,411.6 587.9,410.6 592.2,410.2 595.7,410.8 599.8,415.7 603.9,413.7 608.0,408.8 612.1,407.5 616.2,406.7 620.3,404.1 624.4,402.6 628.5,402.6 632.6,402.6 637.3,399.3 641.4,400.0 645.5,401.0 649.2,405.5 653.3,401.0 657.4,398.9 661.5,398.5 665.6,393.8 669.1,390.1 673.8,391.7 678.3,394.4 681.4,393.2 685.5,391.3 689.6,400.6 693.7,400.6 697.8,402.6 701.9,403.6 706.0,397.3 710.1,404.1 714.2,409.2 718.3,406.5 722.4,407.1 726.5,408.2 730.6,410.8 734.7,410.6 738.8,414.3 742.7,411.2 746.7,403.6 751.5,403.8 755.6,402.7 759.1,400.6 762.7,401.3 766.5,411.6 771.0,413.3 775.4,418.3 778.9,419.0 782.5,420.1 786.9,413.7 791.3,415.1 795.2,413.3 799.3,413.3 803.4,414.2" fill="none" stroke="#6e6e6e" stroke-width="1.05" stroke-linejoin="round"/>
<text class="t" x="3.9" y="371.9" font-size="4.8" fill="#222" textLength="34.3" lengthAdjust="spacingAndGlyphs">RSI(14) 36.4674</text>
<text class="t" x="953.9" y="371" font-size="4.8" fill="#222">100</text>
<text class="t" x="953.9" y="390.5" font-size="4.8" fill="#222">70</text>
<text class="t" x="953.9" y="405.2" font-size="4.8" fill="#222">50</text>
<text class="t" x="953.9" y="420.6" font-size="4.8" fill="#222">30</text>
<text class="t" x="953.9" y="439.5" font-size="4.8" fill="#222">0</text>
<line x1="951.5" y1="388.7" x2="953" y2="388.7" stroke="#444" stroke-width="0.8"/>
<line x1="951.5" y1="403.4" x2="953" y2="403.4" stroke="#444" stroke-width="0.8"/>
<line x1="951.5" y1="418.8" x2="953" y2="418.8" stroke="#444" stroke-width="0.8"/>
<line x1="1.4" y1="441" x2="1.4" y2="443" stroke="#444" stroke-width="0.8"/>
<text class="t" x="1.6" y="448.1" font-size="5.7" fill="#111" textLength="24.2" lengthAdjust="spacingAndGlyphs">20 Jul 2023</text>
<line x1="34.0" y1="441" x2="34.0" y2="443" stroke="#444" stroke-width="0.8"/>
<text class="t" x="34.2" y="448.1" font-size="5.7" fill="#111" textLength="23.7" lengthAdjust="spacingAndGlyphs">1 Aug 2023</text>
<line x1="66.6" y1="441" x2="66.6" y2="443" stroke="#444" stroke-width="0.8"/>
<text class="t" x="66.8" y="448.1" font-size="5.7" fill="#111" textLength="25.9" lengthAdjust="spacingAndGlyphs">11 Aug 2023</text>
<line x1="99.2" y1="441" x2="99.2" y2="443" stroke="#444" stroke-width="0.8"/>
<text class="t" x="99.4" y="448.1" font-size="5.7" fill="#111" textLength="26.3" lengthAdjust="spacingAndGlyphs">23 Aug 2023</text>
<line x1="131.8" y1="441" x2="131.8" y2="443" stroke="#444" stroke-width="0.8"/>
<text class="t" x="132.0" y="448.1" font-size="5.7" fill="#111" textLength="23.9" lengthAdjust="spacingAndGlyphs">4 Sep 2023</text>
<line x1="164.3" y1="441" x2="164.3" y2="443" stroke="#444" stroke-width="0.8"/>
<text class="t" x="164.5" y="448.1" font-size="5.7" fill="#111" textLength="26.5" lengthAdjust="spacingAndGlyphs">14 Sep 2023</text>
<line x1="196.9" y1="441" x2="196.9" y2="443" stroke="#444" stroke-width="0.8"/>
<text class="t" x="197.1" y="448.1" font-size="5.7" fill="#111" textLength="26.5" lengthAdjust="spacingAndGlyphs">26 Sep 2023</text>
<line x1="229.5" y1="441" x2="229.5" y2="443" stroke="#444" stroke-width="0.8"/>
<text class="t" x="229.7" y="448.1" font-size="5.7" fill="#111" textLength="22.9" lengthAdjust="spacingAndGlyphs">6 Oct 2023</text>
<line x1="262.1" y1="441" x2="262.1" y2="443" stroke="#444" stroke-width="0.8"/>
<text class="t" x="262.3" y="448.1" font-size="5.7" fill="#111" textLength="25.5" lengthAdjust="spacingAndGlyphs">18 Oct 2023</text>
<line x1="294.7" y1="441" x2="294.7" y2="443" stroke="#444" stroke-width="0.8"/>
<text class="t" x="294.9" y="448.1" font-size="5.7" fill="#111" textLength="25.5" lengthAdjust="spacingAndGlyphs">30 Oct 2023</text>
<line x1="327.2" y1="441" x2="327.2" y2="443" stroke="#444" stroke-width="0.8"/>
<text class="t" x="327.4" y="448.1" font-size="5.7" fill="#111" textLength="23.9" lengthAdjust="spacingAndGlyphs">9 Nov 2023</text>
<line x1="359.8" y1="441" x2="359.8" y2="443" stroke="#444" stroke-width="0.8"/>
<text class="t" x="360.0" y="448.1" font-size="5.7" fill="#111" textLength="26.5" lengthAdjust="spacingAndGlyphs">21 Nov 2023</text>
<line x1="392.4" y1="441" x2="392.4" y2="443" stroke="#444" stroke-width="0.8"/>
<text class="t" x="392.6" y="448.1" font-size="5.7" fill="#111" textLength="23.9" lengthAdjust="spacingAndGlyphs">1 Dec 2023</text>
<line x1="425.0" y1="441" x2="425.0" y2="443" stroke="#444" stroke-width="0.8"/>
<text class="t" x="425.2" y="448.1" font-size="5.7" fill="#111" textLength="26.5" lengthAdjust="spacingAndGlyphs">13 Dec 2023</text>
<line x1="457.6" y1="441" x2="457.6" y2="443" stroke="#444" stroke-width="0.8"/>
<text class="t" x="457.8" y="448.1" font-size="5.7" fill="#111" textLength="26.5" lengthAdjust="spacingAndGlyphs">25 Dec 2023</text>
<line x1="490.1" y1="441" x2="490.1" y2="443" stroke="#444" stroke-width="0.8"/>
<text class="t" x="490.3" y="448.1" font-size="5.7" fill="#111" textLength="23.2" lengthAdjust="spacingAndGlyphs">5 Jan 2024</text>
<line x1="522.7" y1="441" x2="522.7" y2="443" stroke="#444" stroke-width="0.8"/>
<text class="t" x="522.9" y="448.1" font-size="5.7" fill="#111" textLength="25.8" lengthAdjust="spacingAndGlyphs">17 Jan 2024</text>
<line x1="555.3" y1="441" x2="555.3" y2="443" stroke="#444" stroke-width="0.8"/>
<text class="t" x="555.5" y="448.1" font-size="5.7" fill="#111" textLength="25.8" lengthAdjust="spacingAndGlyphs">29 Jan 2024</text>
<line x1="587.9" y1="441" x2="587.9" y2="443" stroke="#444" stroke-width="0.8"/>
<text class="t" x="588.1" y="448.1" font-size="5.7" fill="#111" textLength="23.7" lengthAdjust="spacingAndGlyphs">8 Feb 2024</text>
<line x1="620.5" y1="441" x2="620.5" y2="443" stroke="#444" stroke-width="0.8"/>
<text class="t" x="620.7" y="448.1" font-size="5.7" fill="#111" textLength="26.3" lengthAdjust="spacingAndGlyphs">20 Feb 2024</text>
<line x1="653.0" y1="441" x2="653.0" y2="443" stroke="#444" stroke-width="0.8"/>
<text class="t" x="653.2" y="448.1" font-size="5.7" fill="#111" textLength="23.7" lengthAdjust="spacingAndGlyphs">1 Mar 2024</text>
<line x1="685.6" y1="441" x2="685.6" y2="443" stroke="#444" stroke-width="0.8"/>
<text class="t" x="685.8" y="448.1" font-size="5.7" fill="#111" textLength="26.3" lengthAdjust="spacingAndGlyphs">13 Mar 2024</text>
<line x1="718.2" y1="441" x2="718.2" y2="443" stroke="#444" stroke-width="0.8"/>
<text class="t" x="718.4" y="448.1" font-size="5.7" fill="#111" textLength="26.3" lengthAdjust="spacingAndGlyphs">25 Mar 2024</text>
<line x1="750.8" y1="441" x2="750.8" y2="443" stroke="#444" stroke-width="0.8"/>
<text class="t" x="751.0" y="448.1" font-size="5.7" fill="#111" textLength="22.6" lengthAdjust="spacingAndGlyphs">4 Apr 2024</text>
<line x1="783.4" y1="441" x2="783.4" y2="443" stroke="#444" stroke-width="0.8"/>
<text class="t" x="783.6" y="448.1" font-size="5.7" fill="#111" textLength="25.2" lengthAdjust="spacingAndGlyphs">16 Apr 2024</text>
</svg></body></html>
